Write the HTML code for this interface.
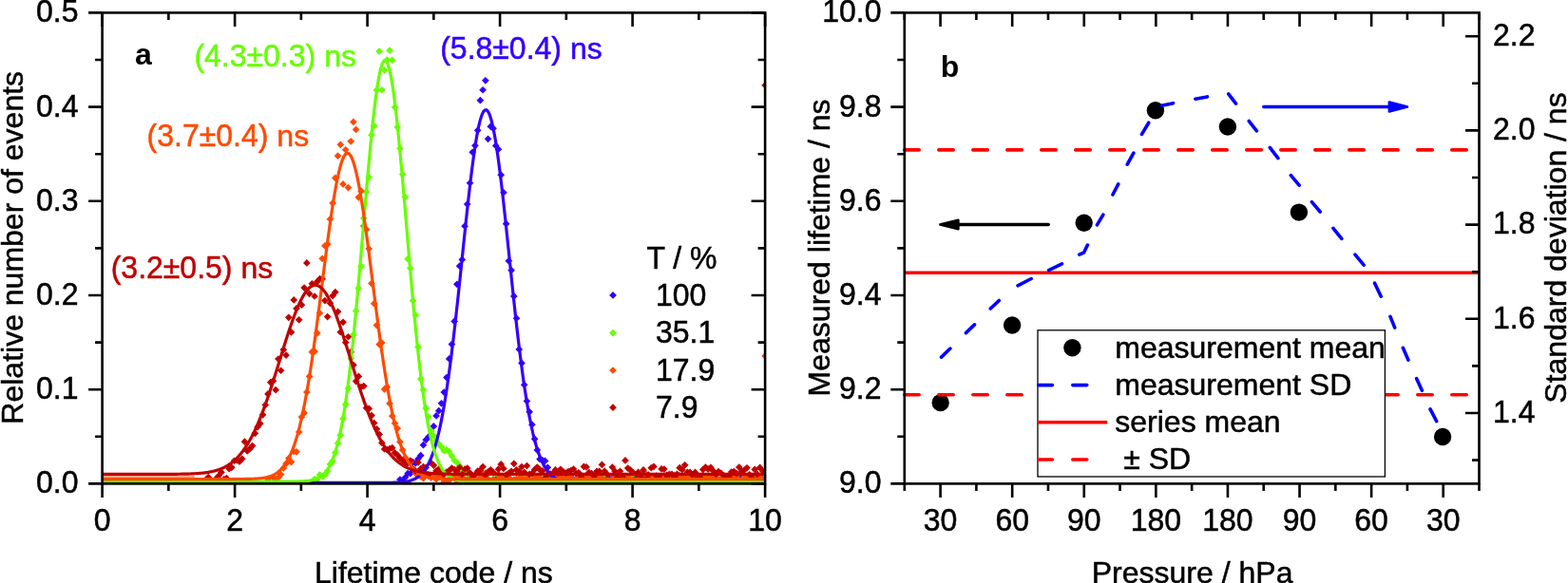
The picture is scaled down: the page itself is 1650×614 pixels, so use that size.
<!DOCTYPE html>
<html><head><meta charset="utf-8"><title>Lifetime plots</title>
<style>html,body{margin:0;padding:0;background:#fff;}body{width:1650px;height:614px;position:relative;overflow:hidden;}</style>
</head><body>
<svg width="1650" height="614" viewBox="0 0 1650 614" style="position:absolute;left:0;top:0">
<rect width="1650" height="614" fill="#fff"/>
<defs><clipPath id="ca"><rect x="107.6" y="13.4" width="697.50" height="496.00"/></clipPath></defs>
<g clip-path="url(#ca)">
<path d="M420.93 501.23L424.78 505.08L420.93 508.93L417.08 505.08Z" fill="#3300FF"/>
<path d="M423.65 502.07L427.5 505.92L423.65 509.77L419.8 505.92Z" fill="#3300FF"/>
<path d="M426.38 499.1L430.23 502.95L426.38 506.8L422.53 502.95Z" fill="#3300FF"/>
<path d="M429.1 494.83L432.95 498.68L429.1 502.53L425.25 498.68Z" fill="#3300FF"/>
<path d="M431.83 494.79L435.68 498.64L431.83 502.49L427.98 498.64Z" fill="#3300FF"/>
<path d="M434.55 482.76L438.4 486.61L434.55 490.46L430.7 486.61Z" fill="#3300FF"/>
<path d="M437.28 484.09L441.13 487.94L437.28 491.79L433.43 487.94Z" fill="#3300FF"/>
<path d="M440 479.4L443.85 483.25L440 487.1L436.15 483.25Z" fill="#3300FF"/>
<path d="M442.73 475.82L446.58 479.67L442.73 483.52L438.88 479.67Z" fill="#3300FF"/>
<path d="M445.45 464.8L449.3 468.65L445.45 472.5L441.6 468.65Z" fill="#3300FF"/>
<path d="M448.18 459.49L452.03 463.34L448.18 467.19L444.33 463.34Z" fill="#3300FF"/>
<path d="M450.9 456.18L454.75 460.03L450.9 463.88L447.05 460.03Z" fill="#3300FF"/>
<path d="M453.63 454.28L457.48 458.13L453.63 461.98L449.78 458.13Z" fill="#3300FF"/>
<path d="M456.35 445.11L460.2 448.96L456.35 452.81L452.5 448.96Z" fill="#3300FF"/>
<path d="M459.07 434.09L462.92 437.94L459.07 441.79L455.22 437.94Z" fill="#3300FF"/>
<path d="M461.8 428.78L465.65 432.63L461.8 436.48L457.95 432.63Z" fill="#3300FF"/>
<path d="M464.52 420.96L468.37 424.81L464.52 428.66L460.67 424.81Z" fill="#3300FF"/>
<path d="M467.25 409.22L471.1 413.07L467.25 416.92L463.4 413.07Z" fill="#3300FF"/>
<path d="M469.97 393.75L473.82 397.6L469.97 401.45L466.12 397.6Z" fill="#3300FF"/>
<path d="M472.7 374.11L476.55 377.96L472.7 381.81L468.85 377.96Z" fill="#3300FF"/>
<path d="M475.42 358.71L479.27 362.56L475.42 366.41L471.57 362.56Z" fill="#3300FF"/>
<path d="M478.15 334.58L482 338.43L478.15 342.28L474.3 338.43Z" fill="#3300FF"/>
<path d="M480.87 295.5L484.72 299.35L480.87 303.2L477.02 299.35Z" fill="#3300FF"/>
<path d="M483.6 276.33L487.45 280.18L483.6 284.03L479.75 280.18Z" fill="#3300FF"/>
<path d="M486.32 269.61L490.17 273.46L486.32 277.31L482.47 273.46Z" fill="#3300FF"/>
<path d="M489.05 234.32L492.9 238.17L489.05 242.02L485.2 238.17Z" fill="#3300FF"/>
<path d="M491.77 211.03L495.62 214.88L491.77 218.73L487.92 214.88Z" fill="#3300FF"/>
<path d="M494.49 188.9L498.34 192.75L494.49 196.6L490.64 192.75Z" fill="#3300FF"/>
<path d="M497.22 156.44L501.07 160.29L497.22 164.14L493.37 160.29Z" fill="#3300FF"/>
<path d="M499.94 149.44L503.79 153.29L499.94 157.14L496.09 153.29Z" fill="#3300FF"/>
<path d="M502.67 133.51L506.52 137.36L502.67 141.21L498.82 137.36Z" fill="#3300FF"/>
<path d="M505.39 101.81L509.24 105.66L505.39 109.51L501.54 105.66Z" fill="#3300FF"/>
<path d="M508.12 90.89L511.97 94.74L508.12 98.59L504.27 94.74Z" fill="#3300FF"/>
<path d="M510.84 80.97L514.69 84.82L510.84 88.67L506.99 84.82Z" fill="#3300FF"/>
<path d="M513.57 142.48L517.42 146.33L513.57 150.18L509.72 146.33Z" fill="#3300FF"/>
<path d="M516.29 129.35L520.14 133.2L516.29 137.05L512.44 133.2Z" fill="#3300FF"/>
<path d="M519.02 131.35L522.87 135.2L519.02 139.05L515.17 135.2Z" fill="#3300FF"/>
<path d="M521.74 149.59L525.59 153.44L521.74 157.29L517.89 153.44Z" fill="#3300FF"/>
<path d="M524.47 153.42L528.32 157.27L524.47 161.12L520.62 157.27Z" fill="#3300FF"/>
<path d="M527.19 180.37L531.04 184.22L527.19 188.07L523.34 184.22Z" fill="#3300FF"/>
<path d="M529.91 198.89L533.76 202.74L529.91 206.59L526.06 202.74Z" fill="#3300FF"/>
<path d="M532.64 231.85L536.49 235.7L532.64 239.55L528.79 235.7Z" fill="#3300FF"/>
<path d="M535.36 270.93L539.21 274.78L535.36 278.63L531.51 274.78Z" fill="#3300FF"/>
<path d="M538.09 280.78L541.94 284.63L538.09 288.48L534.24 284.63Z" fill="#3300FF"/>
<path d="M540.81 308.1L544.66 311.95L540.81 315.8L536.96 311.95Z" fill="#3300FF"/>
<path d="M543.54 331.39L547.39 335.24L543.54 339.09L539.69 335.24Z" fill="#3300FF"/>
<path d="M546.26 364.05L550.11 367.9L546.26 371.75L542.41 367.9Z" fill="#3300FF"/>
<path d="M548.99 378.61L552.84 382.46L548.99 386.31L545.14 382.46Z" fill="#3300FF"/>
<path d="M551.71 401.42L555.56 405.27L551.71 409.12L547.86 405.27Z" fill="#3300FF"/>
<path d="M554.44 418.61L558.29 422.46L554.44 426.31L550.59 422.46Z" fill="#3300FF"/>
<path d="M557.16 429.99L561.01 433.84L557.16 437.69L553.31 433.84Z" fill="#3300FF"/>
<path d="M559.89 443.31L563.74 447.16L559.89 451.01L556.04 447.16Z" fill="#3300FF"/>
<path d="M562.61 458.48L566.46 462.33L562.61 466.18L558.76 462.33Z" fill="#3300FF"/>
<path d="M565.33 470.11L569.18 473.96L565.33 477.81L561.48 473.96Z" fill="#3300FF"/>
<path d="M568.06 479.71L571.91 483.56L568.06 487.41L564.21 483.56Z" fill="#3300FF"/>
<path d="M570.78 480.78L574.63 484.63L570.78 488.48L566.93 484.63Z" fill="#3300FF"/>
<path d="M573.51 481.55L577.36 485.4L573.51 489.25L569.66 485.4Z" fill="#3300FF"/>
<path d="M576.23 488.52L580.08 492.37L576.23 496.22L572.38 492.37Z" fill="#3300FF"/>
<path d="M578.96 496.84L582.81 500.69L578.96 504.54L575.11 500.69Z" fill="#3300FF"/>
<path d="M581.68 495.93L585.53 499.78L581.68 503.63L577.83 499.78Z" fill="#3300FF"/>
<path d="M584.41 494.8L588.26 498.65L584.41 502.5L580.56 498.65Z" fill="#3300FF"/>
<path d="M587.13 493.36L590.98 497.21L587.13 501.06L583.28 497.21Z" fill="#3300FF"/>
<path d="M589.86 495.53L593.71 499.38L589.86 503.23L586.01 499.38Z" fill="#3300FF"/>
<path d="M592.58 498.06L596.43 501.91L592.58 505.76L588.73 501.91Z" fill="#3300FF"/>
<path d="M595.31 498.97L599.16 502.82L595.31 506.67L591.46 502.82Z" fill="#3300FF"/>
<path d="M598.03 502.11L601.88 505.96L598.03 509.81L594.18 505.96Z" fill="#3300FF"/>
<path d="M600.75 501.04L604.6 504.89L600.75 508.74L596.9 504.89Z" fill="#3300FF"/>
<path d="M603.48 500.96L607.33 504.81L603.48 508.66L599.63 504.81Z" fill="#3300FF"/>
<path d="M606.2 502.04L610.05 505.89L606.2 509.74L602.35 505.89Z" fill="#3300FF"/>
<path d="M608.93 500.3L612.78 504.15L608.93 508L605.08 504.15Z" fill="#3300FF"/>
<path d="M611.65 501.35L615.5 505.2L611.65 509.05L607.8 505.2Z" fill="#3300FF"/>
<path d="M614.38 499.79L618.23 503.64L614.38 507.49L610.53 503.64Z" fill="#3300FF"/>
<path d="M617.1 497.42L620.95 501.27L617.1 505.12L613.25 501.27Z" fill="#3300FF"/>
<path d="M619.83 498.95L623.68 502.8L619.83 506.65L615.98 502.8Z" fill="#3300FF"/>
<path d="M622.55 499.66L626.4 503.51L622.55 507.36L618.7 503.51Z" fill="#3300FF"/>
<path d="M625.28 501.11L629.13 504.96L625.28 508.81L621.43 504.96Z" fill="#3300FF"/>
<path d="M628 503.9L631.85 507.75L628 511.6L624.15 507.75Z" fill="#3300FF"/>
<path d="M630.73 500.84L634.58 504.69L630.73 508.54L626.88 504.69Z" fill="#3300FF"/>
<path d="M633.45 499.4L637.3 503.25L633.45 507.1L629.6 503.25Z" fill="#3300FF"/>
<path d="M636.17 502.79L640.02 506.64L636.17 510.49L632.32 506.64Z" fill="#3300FF"/>
<path d="M638.9 497.85L642.75 501.7L638.9 505.55L635.05 501.7Z" fill="#3300FF"/>
<path d="M641.62 501.32L645.47 505.17L641.62 509.02L637.77 505.17Z" fill="#3300FF"/>
<path d="M644.35 499.78L648.2 503.63L644.35 507.48L640.5 503.63Z" fill="#3300FF"/>
<path d="M647.07 501.31L650.92 505.16L647.07 509.01L643.22 505.16Z" fill="#3300FF"/>
<path d="M649.8 503.33L653.65 507.18L649.8 511.03L645.95 507.18Z" fill="#3300FF"/>
<path d="M652.52 496.08L656.37 499.93L652.52 503.78L648.67 499.93Z" fill="#3300FF"/>
<path d="M655.25 503.12L659.1 506.97L655.25 510.82L651.4 506.97Z" fill="#3300FF"/>
<path d="M657.97 498.59L661.82 502.44L657.97 506.29L654.12 502.44Z" fill="#3300FF"/>
<path d="M660.7 501.8L664.55 505.65L660.7 509.5L656.85 505.65Z" fill="#3300FF"/>
<path d="M663.42 499.98L667.27 503.83L663.42 507.68L659.57 503.83Z" fill="#3300FF"/>
<path d="M666.14 502.35L669.99 506.2L666.14 510.05L662.29 506.2Z" fill="#3300FF"/>
<path d="M668.87 501.5L672.72 505.35L668.87 509.2L665.02 505.35Z" fill="#3300FF"/>
<path d="M671.59 498.58L675.44 502.43L671.59 506.28L667.74 502.43Z" fill="#3300FF"/>
<path d="M674.32 496.34L678.17 500.19L674.32 504.04L670.47 500.19Z" fill="#3300FF"/>
<path d="M677.04 502.44L680.89 506.29L677.04 510.14L673.19 506.29Z" fill="#3300FF"/>
<path d="M679.77 500.57L683.62 504.42L679.77 508.27L675.92 504.42Z" fill="#3300FF"/>
<path d="M682.49 498.52L686.34 502.37L682.49 506.22L678.64 502.37Z" fill="#3300FF"/>
<path d="M685.22 501.97L689.07 505.82L685.22 509.67L681.37 505.82Z" fill="#3300FF"/>
<path d="M687.94 499.04L691.79 502.89L687.94 506.74L684.09 502.89Z" fill="#3300FF"/>
<path d="M690.67 502.3L694.52 506.15L690.67 510L686.82 506.15Z" fill="#3300FF"/>
<path d="M693.39 499.27L697.24 503.12L693.39 506.97L689.54 503.12Z" fill="#3300FF"/>
<path d="M696.12 499.64L699.97 503.49L696.12 507.34L692.27 503.49Z" fill="#3300FF"/>
<path d="M698.84 497.95L702.69 501.8L698.84 505.65L694.99 501.8Z" fill="#3300FF"/>
<path d="M701.56 499.8L705.41 503.65L701.56 507.5L697.71 503.65Z" fill="#3300FF"/>
<path d="M704.29 503.19L708.14 507.04L704.29 510.89L700.44 507.04Z" fill="#3300FF"/>
<path d="M707.01 499.14L710.86 502.99L707.01 506.84L703.16 502.99Z" fill="#3300FF"/>
<path d="M709.74 502.99L713.59 506.84L709.74 510.69L705.89 506.84Z" fill="#3300FF"/>
<path d="M712.46 498.95L716.31 502.8L712.46 506.65L708.61 502.8Z" fill="#3300FF"/>
<path d="M715.19 497.29L719.04 501.14L715.19 504.99L711.34 501.14Z" fill="#3300FF"/>
<path d="M717.91 499.29L721.76 503.14L717.91 506.99L714.06 503.14Z" fill="#3300FF"/>
<path d="M720.64 501.8L724.49 505.65L720.64 509.5L716.79 505.65Z" fill="#3300FF"/>
<path d="M723.36 497.99L727.21 501.84L723.36 505.69L719.51 501.84Z" fill="#3300FF"/>
<path d="M726.09 500.22L729.94 504.07L726.09 507.92L722.24 504.07Z" fill="#3300FF"/>
<path d="M728.81 503.31L732.66 507.16L728.81 511.01L724.96 507.16Z" fill="#3300FF"/>
<path d="M731.54 501.36L735.39 505.21L731.54 509.06L727.69 505.21Z" fill="#3300FF"/>
<path d="M734.26 497.49L738.11 501.34L734.26 505.19L730.41 501.34Z" fill="#3300FF"/>
<path d="M736.98 501.25L740.83 505.1L736.98 508.95L733.13 505.1Z" fill="#3300FF"/>
<path d="M739.71 500.32L743.56 504.17L739.71 508.02L735.86 504.17Z" fill="#3300FF"/>
<path d="M742.43 501.34L746.28 505.19L742.43 509.04L738.58 505.19Z" fill="#3300FF"/>
<path d="M745.16 504.27L749.01 508.12L745.16 511.97L741.31 508.12Z" fill="#3300FF"/>
<path d="M747.88 501.7L751.73 505.55L747.88 509.4L744.03 505.55Z" fill="#3300FF"/>
<path d="M750.61 499.81L754.46 503.66L750.61 507.51L746.76 503.66Z" fill="#3300FF"/>
<path d="M753.33 500.14L757.18 503.99L753.33 507.84L749.48 503.99Z" fill="#3300FF"/>
<path d="M756.06 500.97L759.91 504.82L756.06 508.67L752.21 504.82Z" fill="#3300FF"/>
<path d="M761.51 497.92L765.36 501.77L761.51 505.62L757.66 501.77Z" fill="#3300FF"/>
<path d="M764.23 499.02L768.08 502.87L764.23 506.72L760.38 502.87Z" fill="#3300FF"/>
<path d="M766.96 498.36L770.81 502.21L766.96 506.06L763.11 502.21Z" fill="#3300FF"/>
<path d="M769.68 497.75L773.53 501.6L769.68 505.45L765.83 501.6Z" fill="#3300FF"/>
<path d="M772.4 501.56L776.25 505.41L772.4 509.26L768.55 505.41Z" fill="#3300FF"/>
<path d="M775.13 501.91L778.98 505.76L775.13 509.61L771.28 505.76Z" fill="#3300FF"/>
<path d="M777.85 499.9L781.7 503.75L777.85 507.6L774 503.75Z" fill="#3300FF"/>
<path d="M780.58 496.94L784.43 500.79L780.58 504.64L776.73 500.79Z" fill="#3300FF"/>
<path d="M783.3 504.27L787.15 508.12L783.3 511.97L779.45 508.12Z" fill="#3300FF"/>
<path d="M786.03 501.09L789.88 504.94L786.03 508.79L782.18 504.94Z" fill="#3300FF"/>
<path d="M788.75 502.15L792.6 506L788.75 509.85L784.9 506Z" fill="#3300FF"/>
<path d="M791.48 499.37L795.33 503.22L791.48 507.07L787.63 503.22Z" fill="#3300FF"/>
<path d="M794.2 497.39L798.05 501.24L794.2 505.09L790.35 501.24Z" fill="#3300FF"/>
<path d="M796.93 501.24L800.78 505.09L796.93 508.94L793.08 505.09Z" fill="#3300FF"/>
<path d="M799.65 503.3L803.5 507.15L799.65 511L795.8 507.15Z" fill="#3300FF"/>
<path d="M802.38 500.48L806.23 504.33L802.38 508.18L798.53 504.33Z" fill="#3300FF"/>
<path d="M805.1 501.21L808.95 505.06L805.1 508.91L801.25 505.06Z" fill="#3300FF"/>
<path d="M331.02 500.64L334.87 504.49L331.02 508.34L327.17 504.49Z" fill="#66FF00"/>
<path d="M333.74 501.27L337.59 505.12L333.74 508.97L329.89 505.12Z" fill="#66FF00"/>
<path d="M336.47 496.15L340.32 500L336.47 503.85L332.62 500Z" fill="#66FF00"/>
<path d="M339.19 498.17L343.04 502.02L339.19 505.87L335.34 502.02Z" fill="#66FF00"/>
<path d="M341.92 496.5L345.77 500.35L341.92 504.2L338.07 500.35Z" fill="#66FF00"/>
<path d="M344.64 492.22L348.49 496.07L344.64 499.92L340.79 496.07Z" fill="#66FF00"/>
<path d="M347.37 485.03L351.22 488.88L347.37 492.73L343.52 488.88Z" fill="#66FF00"/>
<path d="M350.09 481.55L353.94 485.4L350.09 489.25L346.24 485.4Z" fill="#66FF00"/>
<path d="M352.81 472.83L356.66 476.68L352.81 480.53L348.96 476.68Z" fill="#66FF00"/>
<path d="M355.54 462.83L359.39 466.68L355.54 470.53L351.69 466.68Z" fill="#66FF00"/>
<path d="M358.26 454.28L362.11 458.13L358.26 461.98L354.41 458.13Z" fill="#66FF00"/>
<path d="M360.99 437.19L364.84 441.04L360.99 444.89L357.14 441.04Z" fill="#66FF00"/>
<path d="M363.71 422.06L367.56 425.91L363.71 429.76L359.86 425.91Z" fill="#66FF00"/>
<path d="M366.44 405.16L370.29 409.01L366.44 412.86L362.59 409.01Z" fill="#66FF00"/>
<path d="M369.16 373.84L373.01 377.69L369.16 381.54L365.31 377.69Z" fill="#66FF00"/>
<path d="M371.89 348.76L375.74 352.61L371.89 356.46L368.04 352.61Z" fill="#66FF00"/>
<path d="M374.61 323.59L378.46 327.44L374.61 331.29L370.76 327.44Z" fill="#66FF00"/>
<path d="M377.34 299.72L381.19 303.57L377.34 307.42L373.49 303.57Z" fill="#66FF00"/>
<path d="M380.06 276.73L383.91 280.58L380.06 284.43L376.21 280.58Z" fill="#66FF00"/>
<path d="M382.79 225.98L386.64 229.83L382.79 233.68L378.94 229.83Z" fill="#66FF00"/>
<path d="M385.51 198.52L389.36 202.37L385.51 206.22L381.66 202.37Z" fill="#66FF00"/>
<path d="M388.23 182.73L392.08 186.58L388.23 190.43L384.38 186.58Z" fill="#66FF00"/>
<path d="M390.96 138.29L394.81 142.14L390.96 145.99L387.11 142.14Z" fill="#66FF00"/>
<path d="M393.68 128.68L397.53 132.53L393.68 136.38L389.83 132.53Z" fill="#66FF00"/>
<path d="M396.41 90.88L400.26 94.73L396.41 98.58L392.56 94.73Z" fill="#66FF00"/>
<path d="M399.13 50.22L402.98 54.07L399.13 57.92L395.28 54.07Z" fill="#66FF00"/>
<path d="M401.86 90.89L405.71 94.74L401.86 98.59L398.01 94.74Z" fill="#66FF00"/>
<path d="M404.58 70.06L408.43 73.91L404.58 77.76L400.73 73.91Z" fill="#66FF00"/>
<path d="M407.31 59.19L411.16 63.04L407.31 66.89L403.46 63.04Z" fill="#66FF00"/>
<path d="M410.03 49.23L413.88 53.08L410.03 56.93L406.18 53.08Z" fill="#66FF00"/>
<path d="M412.76 59.45L416.61 63.3L412.76 67.15L408.91 63.3Z" fill="#66FF00"/>
<path d="M415.48 109.13L419.33 112.98L415.48 116.83L411.63 112.98Z" fill="#66FF00"/>
<path d="M418.21 130.03L422.06 133.88L418.21 137.73L414.36 133.88Z" fill="#66FF00"/>
<path d="M420.93 152.59L424.78 156.44L420.93 160.29L417.08 156.44Z" fill="#66FF00"/>
<path d="M423.65 179.89L427.5 183.74L423.65 187.59L419.8 183.74Z" fill="#66FF00"/>
<path d="M426.38 203.69L430.23 207.54L426.38 211.39L422.53 207.54Z" fill="#66FF00"/>
<path d="M429.1 268.83L432.95 272.68L429.1 276.53L425.25 272.68Z" fill="#66FF00"/>
<path d="M431.83 278.57L435.68 282.42L431.83 286.27L427.98 282.42Z" fill="#66FF00"/>
<path d="M434.55 312.85L438.4 316.7L434.55 320.55L430.7 316.7Z" fill="#66FF00"/>
<path d="M437.28 328.13L441.13 331.98L437.28 335.83L433.43 331.98Z" fill="#66FF00"/>
<path d="M440 361.57L443.85 365.42L440 369.27L436.15 365.42Z" fill="#66FF00"/>
<path d="M442.73 395.24L446.58 399.09L442.73 402.94L438.88 399.09Z" fill="#66FF00"/>
<path d="M445.45 406.86L449.3 410.71L445.45 414.56L441.6 410.71Z" fill="#66FF00"/>
<path d="M448.18 426.09L452.03 429.94L448.18 433.79L444.33 429.94Z" fill="#66FF00"/>
<path d="M450.9 434.93L454.75 438.78L450.9 442.63L447.05 438.78Z" fill="#66FF00"/>
<path d="M453.63 449.96L457.48 453.81L453.63 457.66L449.78 453.81Z" fill="#66FF00"/>
<path d="M456.35 455.03L460.2 458.88L456.35 462.73L452.5 458.88Z" fill="#66FF00"/>
<path d="M459.07 460.18L462.92 464.03L459.07 467.88L455.22 464.03Z" fill="#66FF00"/>
<path d="M461.8 463.63L465.65 467.48L461.8 471.33L457.95 467.48Z" fill="#66FF00"/>
<path d="M464.52 466.92L468.37 470.77L464.52 474.62L460.67 470.77Z" fill="#66FF00"/>
<path d="M467.25 470.83L471.1 474.68L467.25 478.53L463.4 474.68Z" fill="#66FF00"/>
<path d="M469.97 469.78L473.82 473.63L469.97 477.48L466.12 473.63Z" fill="#66FF00"/>
<path d="M472.7 471.72L476.55 475.57L472.7 479.42L468.85 475.57Z" fill="#66FF00"/>
<path d="M475.42 476.24L479.27 480.09L475.42 483.94L471.57 480.09Z" fill="#66FF00"/>
<path d="M478.15 480.99L482 484.84L478.15 488.69L474.3 484.84Z" fill="#66FF00"/>
<path d="M480.87 483.27L484.72 487.12L480.87 490.97L477.02 487.12Z" fill="#66FF00"/>
<path d="M483.6 486.63L487.45 490.48L483.6 494.33L479.75 490.48Z" fill="#66FF00"/>
<path d="M486.32 491.08L490.17 494.93L486.32 498.78L482.47 494.93Z" fill="#66FF00"/>
<path d="M489.05 493.99L492.9 497.84L489.05 501.69L485.2 497.84Z" fill="#66FF00"/>
<path d="M491.77 494.84L495.62 498.69L491.77 502.54L487.92 498.69Z" fill="#66FF00"/>
<path d="M494.49 499.85L498.34 503.7L494.49 507.55L490.64 503.7Z" fill="#66FF00"/>
<path d="M497.22 500.64L501.07 504.49L497.22 508.34L493.37 504.49Z" fill="#66FF00"/>
<path d="M499.94 503.25L503.79 507.1L499.94 510.95L496.09 507.1Z" fill="#66FF00"/>
<path d="M502.67 502.47L506.52 506.32L502.67 510.17L498.82 506.32Z" fill="#66FF00"/>
<path d="M505.39 502.93L509.24 506.78L505.39 510.63L501.54 506.78Z" fill="#66FF00"/>
<path d="M508.12 503.44L511.97 507.29L508.12 511.14L504.27 507.29Z" fill="#66FF00"/>
<path d="M510.84 503.26L514.69 507.11L510.84 510.96L506.99 507.11Z" fill="#66FF00"/>
<path d="M513.57 500.36L517.42 504.21L513.57 508.06L509.72 504.21Z" fill="#66FF00"/>
<path d="M516.29 502.77L520.14 506.62L516.29 510.47L512.44 506.62Z" fill="#66FF00"/>
<path d="M519.02 502.7L522.87 506.55L519.02 510.4L515.17 506.55Z" fill="#66FF00"/>
<path d="M521.74 499.95L525.59 503.8L521.74 507.65L517.89 503.8Z" fill="#66FF00"/>
<path d="M524.47 502.64L528.32 506.49L524.47 510.34L520.62 506.49Z" fill="#66FF00"/>
<path d="M529.91 502.09L533.76 505.94L529.91 509.79L526.06 505.94Z" fill="#66FF00"/>
<path d="M532.64 503.69L536.49 507.54L532.64 511.39L528.79 507.54Z" fill="#66FF00"/>
<path d="M535.36 500.62L539.21 504.47L535.36 508.32L531.51 504.47Z" fill="#66FF00"/>
<path d="M538.09 504.06L541.94 507.91L538.09 511.76L534.24 507.91Z" fill="#66FF00"/>
<path d="M540.81 503.26L544.66 507.11L540.81 510.96L536.96 507.11Z" fill="#66FF00"/>
<path d="M543.54 504.49L547.39 508.34L543.54 512.19L539.69 508.34Z" fill="#66FF00"/>
<path d="M546.26 502.46L550.11 506.31L546.26 510.16L542.41 506.31Z" fill="#66FF00"/>
<path d="M548.99 503.78L552.84 507.63L548.99 511.48L545.14 507.63Z" fill="#66FF00"/>
<path d="M551.71 502.65L555.56 506.5L551.71 510.35L547.86 506.5Z" fill="#66FF00"/>
<path d="M554.44 503.02L558.29 506.87L554.44 510.72L550.59 506.87Z" fill="#66FF00"/>
<path d="M557.16 503.3L561.01 507.15L557.16 511L553.31 507.15Z" fill="#66FF00"/>
<path d="M559.89 501.45L563.74 505.3L559.89 509.15L556.04 505.3Z" fill="#66FF00"/>
<path d="M562.61 501.46L566.46 505.31L562.61 509.16L558.76 505.31Z" fill="#66FF00"/>
<path d="M565.33 502.5L569.18 506.35L565.33 510.2L561.48 506.35Z" fill="#66FF00"/>
<path d="M568.06 503.65L571.91 507.5L568.06 511.35L564.21 507.5Z" fill="#66FF00"/>
<path d="M570.78 503.85L574.63 507.7L570.78 511.55L566.93 507.7Z" fill="#66FF00"/>
<path d="M573.51 502.25L577.36 506.1L573.51 509.95L569.66 506.1Z" fill="#66FF00"/>
<path d="M576.23 499.73L580.08 503.58L576.23 507.43L572.38 503.58Z" fill="#66FF00"/>
<path d="M578.96 503.12L582.81 506.97L578.96 510.82L575.11 506.97Z" fill="#66FF00"/>
<path d="M581.68 503.51L585.53 507.36L581.68 511.21L577.83 507.36Z" fill="#66FF00"/>
<path d="M584.41 503.4L588.26 507.25L584.41 511.1L580.56 507.25Z" fill="#66FF00"/>
<path d="M587.13 503.88L590.98 507.73L587.13 511.58L583.28 507.73Z" fill="#66FF00"/>
<path d="M589.86 503.73L593.71 507.58L589.86 511.43L586.01 507.58Z" fill="#66FF00"/>
<path d="M592.58 502.82L596.43 506.67L592.58 510.52L588.73 506.67Z" fill="#66FF00"/>
<path d="M595.31 500.87L599.16 504.72L595.31 508.57L591.46 504.72Z" fill="#66FF00"/>
<path d="M598.03 502.58L601.88 506.43L598.03 510.28L594.18 506.43Z" fill="#66FF00"/>
<path d="M600.75 503.18L604.6 507.03L600.75 510.88L596.9 507.03Z" fill="#66FF00"/>
<path d="M603.48 504.5L607.33 508.35L603.48 512.2L599.63 508.35Z" fill="#66FF00"/>
<path d="M606.2 502.32L610.05 506.17L606.2 510.02L602.35 506.17Z" fill="#66FF00"/>
<path d="M608.93 502.61L612.78 506.46L608.93 510.31L605.08 506.46Z" fill="#66FF00"/>
<path d="M611.65 504.03L615.5 507.88L611.65 511.73L607.8 507.88Z" fill="#66FF00"/>
<path d="M614.38 503.87L618.23 507.72L614.38 511.57L610.53 507.72Z" fill="#66FF00"/>
<path d="M617.1 502.62L620.95 506.47L617.1 510.32L613.25 506.47Z" fill="#66FF00"/>
<path d="M619.83 501.37L623.68 505.22L619.83 509.07L615.98 505.22Z" fill="#66FF00"/>
<path d="M622.55 501.83L626.4 505.68L622.55 509.53L618.7 505.68Z" fill="#66FF00"/>
<path d="M625.28 502.33L629.13 506.18L625.28 510.03L621.43 506.18Z" fill="#66FF00"/>
<path d="M628 502.96L631.85 506.81L628 510.66L624.15 506.81Z" fill="#66FF00"/>
<path d="M630.73 502.19L634.58 506.04L630.73 509.89L626.88 506.04Z" fill="#66FF00"/>
<path d="M633.45 502.59L637.3 506.44L633.45 510.29L629.6 506.44Z" fill="#66FF00"/>
<path d="M636.17 499.99L640.02 503.84L636.17 507.69L632.32 503.84Z" fill="#66FF00"/>
<path d="M638.9 503.92L642.75 507.77L638.9 511.62L635.05 507.77Z" fill="#66FF00"/>
<path d="M641.62 503.01L645.47 506.86L641.62 510.71L637.77 506.86Z" fill="#66FF00"/>
<path d="M644.35 501.06L648.2 504.91L644.35 508.76L640.5 504.91Z" fill="#66FF00"/>
<path d="M647.07 502.89L650.92 506.74L647.07 510.59L643.22 506.74Z" fill="#66FF00"/>
<path d="M649.8 500.88L653.65 504.73L649.8 508.58L645.95 504.73Z" fill="#66FF00"/>
<path d="M652.52 502.63L656.37 506.48L652.52 510.33L648.67 506.48Z" fill="#66FF00"/>
<path d="M655.25 502.4L659.1 506.25L655.25 510.1L651.4 506.25Z" fill="#66FF00"/>
<path d="M657.97 503.02L661.82 506.87L657.97 510.72L654.12 506.87Z" fill="#66FF00"/>
<path d="M660.7 504.22L664.55 508.07L660.7 511.92L656.85 508.07Z" fill="#66FF00"/>
<path d="M663.42 503.73L667.27 507.58L663.42 511.43L659.57 507.58Z" fill="#66FF00"/>
<path d="M666.14 499.94L669.99 503.79L666.14 507.64L662.29 503.79Z" fill="#66FF00"/>
<path d="M668.87 501.81L672.72 505.66L668.87 509.51L665.02 505.66Z" fill="#66FF00"/>
<path d="M671.59 501.85L675.44 505.7L671.59 509.55L667.74 505.7Z" fill="#66FF00"/>
<path d="M674.32 501.44L678.17 505.29L674.32 509.14L670.47 505.29Z" fill="#66FF00"/>
<path d="M677.04 501.9L680.89 505.75L677.04 509.6L673.19 505.75Z" fill="#66FF00"/>
<path d="M679.77 501.36L683.62 505.21L679.77 509.06L675.92 505.21Z" fill="#66FF00"/>
<path d="M682.49 502.89L686.34 506.74L682.49 510.59L678.64 506.74Z" fill="#66FF00"/>
<path d="M685.22 502.84L689.07 506.69L685.22 510.54L681.37 506.69Z" fill="#66FF00"/>
<path d="M687.94 501.4L691.79 505.25L687.94 509.1L684.09 505.25Z" fill="#66FF00"/>
<path d="M690.67 502.99L694.52 506.84L690.67 510.69L686.82 506.84Z" fill="#66FF00"/>
<path d="M693.39 504.16L697.24 508.01L693.39 511.86L689.54 508.01Z" fill="#66FF00"/>
<path d="M696.12 502.84L699.97 506.69L696.12 510.54L692.27 506.69Z" fill="#66FF00"/>
<path d="M698.84 503.22L702.69 507.07L698.84 510.92L694.99 507.07Z" fill="#66FF00"/>
<path d="M701.56 501.84L705.41 505.69L701.56 509.54L697.71 505.69Z" fill="#66FF00"/>
<path d="M704.29 503.43L708.14 507.28L704.29 511.13L700.44 507.28Z" fill="#66FF00"/>
<path d="M707.01 503.84L710.86 507.69L707.01 511.54L703.16 507.69Z" fill="#66FF00"/>
<path d="M709.74 502.97L713.59 506.82L709.74 510.67L705.89 506.82Z" fill="#66FF00"/>
<path d="M712.46 500.73L716.31 504.58L712.46 508.43L708.61 504.58Z" fill="#66FF00"/>
<path d="M715.19 502.63L719.04 506.48L715.19 510.33L711.34 506.48Z" fill="#66FF00"/>
<path d="M717.91 502.38L721.76 506.23L717.91 510.08L714.06 506.23Z" fill="#66FF00"/>
<path d="M720.64 502.56L724.49 506.41L720.64 510.26L716.79 506.41Z" fill="#66FF00"/>
<path d="M723.36 502.22L727.21 506.07L723.36 509.92L719.51 506.07Z" fill="#66FF00"/>
<path d="M726.09 501.47L729.94 505.32L726.09 509.17L722.24 505.32Z" fill="#66FF00"/>
<path d="M728.81 500.91L732.66 504.76L728.81 508.61L724.96 504.76Z" fill="#66FF00"/>
<path d="M731.54 504.53L735.39 508.38L731.54 512.23L727.69 508.38Z" fill="#66FF00"/>
<path d="M734.26 500.95L738.11 504.8L734.26 508.65L730.41 504.8Z" fill="#66FF00"/>
<path d="M736.98 502.58L740.83 506.43L736.98 510.28L733.13 506.43Z" fill="#66FF00"/>
<path d="M739.71 502.96L743.56 506.81L739.71 510.66L735.86 506.81Z" fill="#66FF00"/>
<path d="M742.43 499.72L746.28 503.57L742.43 507.42L738.58 503.57Z" fill="#66FF00"/>
<path d="M745.16 502.78L749.01 506.63L745.16 510.48L741.31 506.63Z" fill="#66FF00"/>
<path d="M747.88 500.26L751.73 504.11L747.88 507.96L744.03 504.11Z" fill="#66FF00"/>
<path d="M750.61 501.42L754.46 505.27L750.61 509.12L746.76 505.27Z" fill="#66FF00"/>
<path d="M753.33 503.8L757.18 507.65L753.33 511.5L749.48 507.65Z" fill="#66FF00"/>
<path d="M756.06 501.99L759.91 505.84L756.06 509.69L752.21 505.84Z" fill="#66FF00"/>
<path d="M758.78 501.7L762.63 505.55L758.78 509.4L754.93 505.55Z" fill="#66FF00"/>
<path d="M761.51 502.72L765.36 506.57L761.51 510.42L757.66 506.57Z" fill="#66FF00"/>
<path d="M766.96 502.98L770.81 506.83L766.96 510.68L763.11 506.83Z" fill="#66FF00"/>
<path d="M769.68 502.8L773.53 506.65L769.68 510.5L765.83 506.65Z" fill="#66FF00"/>
<path d="M772.4 503.89L776.25 507.74L772.4 511.59L768.55 507.74Z" fill="#66FF00"/>
<path d="M775.13 500.4L778.98 504.25L775.13 508.1L771.28 504.25Z" fill="#66FF00"/>
<path d="M777.85 502.86L781.7 506.71L777.85 510.56L774 506.71Z" fill="#66FF00"/>
<path d="M780.58 503.04L784.43 506.89L780.58 510.74L776.73 506.89Z" fill="#66FF00"/>
<path d="M783.3 502.93L787.15 506.78L783.3 510.63L779.45 506.78Z" fill="#66FF00"/>
<path d="M786.03 503.51L789.88 507.36L786.03 511.21L782.18 507.36Z" fill="#66FF00"/>
<path d="M788.75 503.5L792.6 507.35L788.75 511.2L784.9 507.35Z" fill="#66FF00"/>
<path d="M791.48 502.46L795.33 506.31L791.48 510.16L787.63 506.31Z" fill="#66FF00"/>
<path d="M794.2 502.2L798.05 506.05L794.2 509.9L790.35 506.05Z" fill="#66FF00"/>
<path d="M796.93 503.18L800.78 507.03L796.93 510.88L793.08 507.03Z" fill="#66FF00"/>
<path d="M799.65 502.68L803.5 506.53L799.65 510.38L795.8 506.53Z" fill="#66FF00"/>
<path d="M802.38 504.23L806.23 508.08L802.38 511.93L798.53 508.08Z" fill="#66FF00"/>
<path d="M805.1 501.95L808.95 505.8L805.1 509.65L801.25 505.8Z" fill="#66FF00"/>
<path d="M281.98 501.14L285.83 504.99L281.98 508.84L278.12 504.99Z" fill="#FF4A00"/>
<path d="M287.42 499.03L291.27 502.88L287.42 506.73L283.57 502.88Z" fill="#FF4A00"/>
<path d="M290.15 500.9L294 504.75L290.15 508.6L286.3 504.75Z" fill="#FF4A00"/>
<path d="M292.87 499.18L296.72 503.03L292.87 506.88L289.02 503.03Z" fill="#FF4A00"/>
<path d="M295.6 495.83L299.45 499.68L295.6 503.53L291.75 499.68Z" fill="#FF4A00"/>
<path d="M298.32 489.1L302.17 492.95L298.32 496.8L294.47 492.95Z" fill="#FF4A00"/>
<path d="M301.05 484.52L304.9 488.37L301.05 492.22L297.2 488.37Z" fill="#FF4A00"/>
<path d="M303.77 478.88L307.62 482.73L303.77 486.58L299.92 482.73Z" fill="#FF4A00"/>
<path d="M306.5 482.77L310.35 486.62L306.5 490.47L302.65 486.62Z" fill="#FF4A00"/>
<path d="M309.22 471.7L313.07 475.55L309.22 479.4L305.37 475.55Z" fill="#FF4A00"/>
<path d="M311.95 471.94L315.8 475.79L311.95 479.64L308.1 475.79Z" fill="#FF4A00"/>
<path d="M314.67 451.16L318.52 455.01L314.67 458.86L310.82 455.01Z" fill="#FF4A00"/>
<path d="M317.39 435.42L321.24 439.27L317.39 443.12L313.54 439.27Z" fill="#FF4A00"/>
<path d="M320.12 431.06L323.97 434.91L320.12 438.76L316.27 434.91Z" fill="#FF4A00"/>
<path d="M322.84 409.15L326.69 413L322.84 416.85L318.99 413Z" fill="#FF4A00"/>
<path d="M325.57 392.6L329.42 396.45L325.57 400.3L321.72 396.45Z" fill="#FF4A00"/>
<path d="M328.29 366.86L332.14 370.71L328.29 374.56L324.44 370.71Z" fill="#FF4A00"/>
<path d="M331.02 366.29L334.87 370.14L331.02 373.99L327.17 370.14Z" fill="#FF4A00"/>
<path d="M333.74 346.97L337.59 350.82L333.74 354.67L329.89 350.82Z" fill="#FF4A00"/>
<path d="M336.47 325.91L340.32 329.76L336.47 333.61L332.62 329.76Z" fill="#FF4A00"/>
<path d="M339.19 268.46L343.04 272.31L339.19 276.16L335.34 272.31Z" fill="#FF4A00"/>
<path d="M341.92 255.07L345.77 258.92L341.92 262.77L338.07 258.92Z" fill="#FF4A00"/>
<path d="M344.64 253.35L348.49 257.2L344.64 261.05L340.79 257.2Z" fill="#FF4A00"/>
<path d="M347.37 226.89L351.22 230.74L347.37 234.59L343.52 230.74Z" fill="#FF4A00"/>
<path d="M350.09 210.12L353.94 213.97L350.09 217.82L346.24 213.97Z" fill="#FF4A00"/>
<path d="M352.81 183.55L356.66 187.4L352.81 191.25L348.96 187.4Z" fill="#FF4A00"/>
<path d="M355.54 160.33L359.39 164.18L355.54 168.03L351.69 164.18Z" fill="#FF4A00"/>
<path d="M358.26 148.43L362.11 152.28L358.26 156.13L354.41 152.28Z" fill="#FF4A00"/>
<path d="M360.99 190.09L364.84 193.94L360.99 197.79L357.14 193.94Z" fill="#FF4A00"/>
<path d="M363.71 153.89L367.56 157.74L363.71 161.59L359.86 157.74Z" fill="#FF4A00"/>
<path d="M366.44 193.76L370.29 197.61L366.44 201.46L362.59 197.61Z" fill="#FF4A00"/>
<path d="M369.16 144.96L373.01 148.81L369.16 152.66L365.31 148.81Z" fill="#FF4A00"/>
<path d="M371.89 124.62L375.74 128.47L371.89 132.32L368.04 128.47Z" fill="#FF4A00"/>
<path d="M374.61 132.56L378.46 136.41L374.61 140.26L370.76 136.41Z" fill="#FF4A00"/>
<path d="M377.34 203.98L381.19 207.83L377.34 211.68L373.49 207.83Z" fill="#FF4A00"/>
<path d="M380.06 197.29L383.91 201.14L380.06 204.99L376.21 201.14Z" fill="#FF4A00"/>
<path d="M382.79 234.22L386.64 238.07L382.79 241.92L378.94 238.07Z" fill="#FF4A00"/>
<path d="M385.51 237.98L389.36 241.83L385.51 245.68L381.66 241.83Z" fill="#FF4A00"/>
<path d="M388.23 258.13L392.08 261.98L388.23 265.83L384.38 261.98Z" fill="#FF4A00"/>
<path d="M390.96 294.75L394.81 298.6L390.96 302.45L387.11 298.6Z" fill="#FF4A00"/>
<path d="M393.68 315.84L397.53 319.69L393.68 323.54L389.83 319.69Z" fill="#FF4A00"/>
<path d="M396.41 338.71L400.26 342.56L396.41 346.41L392.56 342.56Z" fill="#FF4A00"/>
<path d="M399.13 358.78L402.98 362.63L399.13 366.48L395.28 362.63Z" fill="#FF4A00"/>
<path d="M401.86 357.15L405.71 361L401.86 364.85L398.01 361Z" fill="#FF4A00"/>
<path d="M404.58 406.07L408.43 409.92L404.58 413.77L400.73 409.92Z" fill="#FF4A00"/>
<path d="M407.31 403.59L411.16 407.44L407.31 411.29L403.46 407.44Z" fill="#FF4A00"/>
<path d="M410.03 421.12L413.88 424.97L410.03 428.82L406.18 424.97Z" fill="#FF4A00"/>
<path d="M412.76 434.35L416.61 438.2L412.76 442.05L408.91 438.2Z" fill="#FF4A00"/>
<path d="M415.48 441.91L419.33 445.76L415.48 449.61L411.63 445.76Z" fill="#FF4A00"/>
<path d="M418.21 447.28L422.06 451.13L418.21 454.98L414.36 451.13Z" fill="#FF4A00"/>
<path d="M420.93 461.57L424.78 465.42L420.93 469.27L417.08 465.42Z" fill="#FF4A00"/>
<path d="M423.65 470.07L427.5 473.92L423.65 477.77L419.8 473.92Z" fill="#FF4A00"/>
<path d="M426.38 478.08L430.23 481.93L426.38 485.78L422.53 481.93Z" fill="#FF4A00"/>
<path d="M429.1 481.52L432.95 485.37L429.1 489.22L425.25 485.37Z" fill="#FF4A00"/>
<path d="M431.83 482.56L435.68 486.41L431.83 490.26L427.98 486.41Z" fill="#FF4A00"/>
<path d="M434.55 489.91L438.4 493.76L434.55 497.61L430.7 493.76Z" fill="#FF4A00"/>
<path d="M437.28 494.6L441.13 498.45L437.28 502.3L433.43 498.45Z" fill="#FF4A00"/>
<path d="M440 496.89L443.85 500.74L440 504.59L436.15 500.74Z" fill="#FF4A00"/>
<path d="M442.73 498.03L446.58 501.88L442.73 505.73L438.88 501.88Z" fill="#FF4A00"/>
<path d="M445.45 499.89L449.3 503.74L445.45 507.59L441.6 503.74Z" fill="#FF4A00"/>
<path d="M448.18 494.96L452.03 498.81L448.18 502.66L444.33 498.81Z" fill="#FF4A00"/>
<path d="M450.9 497.43L454.75 501.28L450.9 505.13L447.05 501.28Z" fill="#FF4A00"/>
<path d="M453.63 499.31L457.48 503.16L453.63 507.01L449.78 503.16Z" fill="#FF4A00"/>
<path d="M456.35 495.9L460.2 499.75L456.35 503.6L452.5 499.75Z" fill="#FF4A00"/>
<path d="M459.07 500.91L462.92 504.76L459.07 508.61L455.22 504.76Z" fill="#FF4A00"/>
<path d="M461.8 497.98L465.65 501.83L461.8 505.68L457.95 501.83Z" fill="#FF4A00"/>
<path d="M464.52 498.03L468.37 501.88L464.52 505.73L460.67 501.88Z" fill="#FF4A00"/>
<path d="M467.25 503.28L471.1 507.13L467.25 510.98L463.4 507.13Z" fill="#FF4A00"/>
<path d="M469.97 503.37L473.82 507.22L469.97 511.07L466.12 507.22Z" fill="#FF4A00"/>
<path d="M472.7 502.03L476.55 505.88L472.7 509.73L468.85 505.88Z" fill="#FF4A00"/>
<path d="M475.42 498.05L479.27 501.9L475.42 505.75L471.57 501.9Z" fill="#FF4A00"/>
<path d="M478.15 497.22L482 501.07L478.15 504.92L474.3 501.07Z" fill="#FF4A00"/>
<path d="M480.87 502.75L484.72 506.6L480.87 510.45L477.02 506.6Z" fill="#FF4A00"/>
<path d="M483.6 497.79L487.45 501.64L483.6 505.49L479.75 501.64Z" fill="#FF4A00"/>
<path d="M486.32 500.92L490.17 504.77L486.32 508.62L482.47 504.77Z" fill="#FF4A00"/>
<path d="M489.05 500.95L492.9 504.8L489.05 508.65L485.2 504.8Z" fill="#FF4A00"/>
<path d="M491.77 501.29L495.62 505.14L491.77 508.99L487.92 505.14Z" fill="#FF4A00"/>
<path d="M494.49 500.8L498.34 504.65L494.49 508.5L490.64 504.65Z" fill="#FF4A00"/>
<path d="M497.22 504.06L501.07 507.91L497.22 511.76L493.37 507.91Z" fill="#FF4A00"/>
<path d="M499.94 502.28L503.79 506.13L499.94 509.98L496.09 506.13Z" fill="#FF4A00"/>
<path d="M502.67 502.79L506.52 506.64L502.67 510.49L498.82 506.64Z" fill="#FF4A00"/>
<path d="M505.39 499.02L509.24 502.87L505.39 506.72L501.54 502.87Z" fill="#FF4A00"/>
<path d="M508.12 495.53L511.97 499.38L508.12 503.23L504.27 499.38Z" fill="#FF4A00"/>
<path d="M510.84 494.13L514.69 497.98L510.84 501.83L506.99 497.98Z" fill="#FF4A00"/>
<path d="M513.57 500.83L517.42 504.68L513.57 508.53L509.72 504.68Z" fill="#FF4A00"/>
<path d="M516.29 503.85L520.14 507.7L516.29 511.55L512.44 507.7Z" fill="#FF4A00"/>
<path d="M519.02 500.98L522.87 504.83L519.02 508.68L515.17 504.83Z" fill="#FF4A00"/>
<path d="M521.74 502.14L525.59 505.99L521.74 509.84L517.89 505.99Z" fill="#FF4A00"/>
<path d="M524.47 495.77L528.32 499.62L524.47 503.47L520.62 499.62Z" fill="#FF4A00"/>
<path d="M527.19 498.85L531.04 502.7L527.19 506.55L523.34 502.7Z" fill="#FF4A00"/>
<path d="M529.91 501.68L533.76 505.53L529.91 509.38L526.06 505.53Z" fill="#FF4A00"/>
<path d="M532.64 498.05L536.49 501.9L532.64 505.75L528.79 501.9Z" fill="#FF4A00"/>
<path d="M535.36 498.92L539.21 502.77L535.36 506.62L531.51 502.77Z" fill="#FF4A00"/>
<path d="M538.09 503.64L541.94 507.49L538.09 511.34L534.24 507.49Z" fill="#FF4A00"/>
<path d="M540.81 501.25L544.66 505.1L540.81 508.95L536.96 505.1Z" fill="#FF4A00"/>
<path d="M543.54 500.62L547.39 504.47L543.54 508.32L539.69 504.47Z" fill="#FF4A00"/>
<path d="M546.26 500.05L550.11 503.9L546.26 507.75L542.41 503.9Z" fill="#FF4A00"/>
<path d="M548.99 499.81L552.84 503.66L548.99 507.51L545.14 503.66Z" fill="#FF4A00"/>
<path d="M551.71 500.83L555.56 504.68L551.71 508.53L547.86 504.68Z" fill="#FF4A00"/>
<path d="M554.44 499.68L558.29 503.53L554.44 507.38L550.59 503.53Z" fill="#FF4A00"/>
<path d="M557.16 501.37L561.01 505.22L557.16 509.07L553.31 505.22Z" fill="#FF4A00"/>
<path d="M559.89 502.05L563.74 505.9L559.89 509.75L556.04 505.9Z" fill="#FF4A00"/>
<path d="M562.61 496.79L566.46 500.64L562.61 504.49L558.76 500.64Z" fill="#FF4A00"/>
<path d="M565.33 499.31L569.18 503.16L565.33 507.01L561.48 503.16Z" fill="#FF4A00"/>
<path d="M568.06 499.14L571.91 502.99L568.06 506.84L564.21 502.99Z" fill="#FF4A00"/>
<path d="M570.78 503.57L574.63 507.42L570.78 511.27L566.93 507.42Z" fill="#FF4A00"/>
<path d="M573.51 500.46L577.36 504.31L573.51 508.16L569.66 504.31Z" fill="#FF4A00"/>
<path d="M576.23 498.31L580.08 502.16L576.23 506.01L572.38 502.16Z" fill="#FF4A00"/>
<path d="M578.96 502.91L582.81 506.76L578.96 510.61L575.11 506.76Z" fill="#FF4A00"/>
<path d="M581.68 497.7L585.53 501.55L581.68 505.4L577.83 501.55Z" fill="#FF4A00"/>
<path d="M584.41 500.94L588.26 504.79L584.41 508.64L580.56 504.79Z" fill="#FF4A00"/>
<path d="M587.13 499.22L590.98 503.07L587.13 506.92L583.28 503.07Z" fill="#FF4A00"/>
<path d="M589.86 500.38L593.71 504.23L589.86 508.08L586.01 504.23Z" fill="#FF4A00"/>
<path d="M592.58 499.62L596.43 503.47L592.58 507.32L588.73 503.47Z" fill="#FF4A00"/>
<path d="M595.31 497.47L599.16 501.32L595.31 505.17L591.46 501.32Z" fill="#FF4A00"/>
<path d="M598.03 500.97L601.88 504.82L598.03 508.67L594.18 504.82Z" fill="#FF4A00"/>
<path d="M600.75 496.68L604.6 500.53L600.75 504.38L596.9 500.53Z" fill="#FF4A00"/>
<path d="M603.48 501.8L607.33 505.65L603.48 509.5L599.63 505.65Z" fill="#FF4A00"/>
<path d="M606.2 502.13L610.05 505.98L606.2 509.83L602.35 505.98Z" fill="#FF4A00"/>
<path d="M608.93 498.54L612.78 502.39L608.93 506.24L605.08 502.39Z" fill="#FF4A00"/>
<path d="M611.65 502.42L615.5 506.27L611.65 510.12L607.8 506.27Z" fill="#FF4A00"/>
<path d="M614.38 500.9L618.23 504.75L614.38 508.6L610.53 504.75Z" fill="#FF4A00"/>
<path d="M617.1 498.11L620.95 501.96L617.1 505.81L613.25 501.96Z" fill="#FF4A00"/>
<path d="M619.83 497.45L623.68 501.3L619.83 505.15L615.98 501.3Z" fill="#FF4A00"/>
<path d="M622.55 503.97L626.4 507.82L622.55 511.67L618.7 507.82Z" fill="#FF4A00"/>
<path d="M625.28 498.99L629.13 502.84L625.28 506.69L621.43 502.84Z" fill="#FF4A00"/>
<path d="M628 495.98L631.85 499.83L628 503.68L624.15 499.83Z" fill="#FF4A00"/>
<path d="M630.73 497.49L634.58 501.34L630.73 505.19L626.88 501.34Z" fill="#FF4A00"/>
<path d="M633.45 500.62L637.3 504.47L633.45 508.32L629.6 504.47Z" fill="#FF4A00"/>
<path d="M636.17 501.4L640.02 505.25L636.17 509.1L632.32 505.25Z" fill="#FF4A00"/>
<path d="M638.9 500.74L642.75 504.59L638.9 508.44L635.05 504.59Z" fill="#FF4A00"/>
<path d="M641.62 502.61L645.47 506.46L641.62 510.31L637.77 506.46Z" fill="#FF4A00"/>
<path d="M644.35 500.67L648.2 504.52L644.35 508.37L640.5 504.52Z" fill="#FF4A00"/>
<path d="M647.07 500.5L650.92 504.35L647.07 508.2L643.22 504.35Z" fill="#FF4A00"/>
<path d="M649.8 500.41L653.65 504.26L649.8 508.11L645.95 504.26Z" fill="#FF4A00"/>
<path d="M652.52 497.51L656.37 501.36L652.52 505.21L648.67 501.36Z" fill="#FF4A00"/>
<path d="M655.25 500.6L659.1 504.45L655.25 508.3L651.4 504.45Z" fill="#FF4A00"/>
<path d="M657.97 503.28L661.82 507.13L657.97 510.98L654.12 507.13Z" fill="#FF4A00"/>
<path d="M660.7 497.8L664.55 501.65L660.7 505.5L656.85 501.65Z" fill="#FF4A00"/>
<path d="M663.42 502.44L667.27 506.29L663.42 510.14L659.57 506.29Z" fill="#FF4A00"/>
<path d="M666.14 501.07L669.99 504.92L666.14 508.77L662.29 504.92Z" fill="#FF4A00"/>
<path d="M668.87 500.39L672.72 504.24L668.87 508.09L665.02 504.24Z" fill="#FF4A00"/>
<path d="M671.59 500.85L675.44 504.7L671.59 508.55L667.74 504.7Z" fill="#FF4A00"/>
<path d="M674.32 502.28L678.17 506.13L674.32 509.98L670.47 506.13Z" fill="#FF4A00"/>
<path d="M677.04 500.64L680.89 504.49L677.04 508.34L673.19 504.49Z" fill="#FF4A00"/>
<path d="M679.77 495.33L683.62 499.18L679.77 503.03L675.92 499.18Z" fill="#FF4A00"/>
<path d="M682.49 501.42L686.34 505.27L682.49 509.12L678.64 505.27Z" fill="#FF4A00"/>
<path d="M685.22 500.39L689.07 504.24L685.22 508.09L681.37 504.24Z" fill="#FF4A00"/>
<path d="M687.94 497.64L691.79 501.49L687.94 505.34L684.09 501.49Z" fill="#FF4A00"/>
<path d="M690.67 498.47L694.52 502.32L690.67 506.17L686.82 502.32Z" fill="#FF4A00"/>
<path d="M693.39 498.43L697.24 502.28L693.39 506.13L689.54 502.28Z" fill="#FF4A00"/>
<path d="M696.12 498.21L699.97 502.06L696.12 505.91L692.27 502.06Z" fill="#FF4A00"/>
<path d="M698.84 504.39L702.69 508.24L698.84 512.09L694.99 508.24Z" fill="#FF4A00"/>
<path d="M701.56 501.98L705.41 505.83L701.56 509.68L697.71 505.83Z" fill="#FF4A00"/>
<path d="M704.29 499.81L708.14 503.66L704.29 507.51L700.44 503.66Z" fill="#FF4A00"/>
<path d="M707.01 499.01L710.86 502.86L707.01 506.71L703.16 502.86Z" fill="#FF4A00"/>
<path d="M709.74 497.27L713.59 501.12L709.74 504.97L705.89 501.12Z" fill="#FF4A00"/>
<path d="M712.46 499.07L716.31 502.92L712.46 506.77L708.61 502.92Z" fill="#FF4A00"/>
<path d="M715.19 500.61L719.04 504.46L715.19 508.31L711.34 504.46Z" fill="#FF4A00"/>
<path d="M717.91 500.01L721.76 503.86L717.91 507.71L714.06 503.86Z" fill="#FF4A00"/>
<path d="M720.64 500.55L724.49 504.4L720.64 508.25L716.79 504.4Z" fill="#FF4A00"/>
<path d="M723.36 499.55L727.21 503.4L723.36 507.25L719.51 503.4Z" fill="#FF4A00"/>
<path d="M726.09 498.62L729.94 502.47L726.09 506.32L722.24 502.47Z" fill="#FF4A00"/>
<path d="M728.81 500.84L732.66 504.69L728.81 508.54L724.96 504.69Z" fill="#FF4A00"/>
<path d="M731.54 501.87L735.39 505.72L731.54 509.57L727.69 505.72Z" fill="#FF4A00"/>
<path d="M734.26 501.96L738.11 505.81L734.26 509.66L730.41 505.81Z" fill="#FF4A00"/>
<path d="M736.98 497.7L740.83 501.55L736.98 505.4L733.13 501.55Z" fill="#FF4A00"/>
<path d="M739.71 497.3L743.56 501.15L739.71 505L735.86 501.15Z" fill="#FF4A00"/>
<path d="M742.43 497.93L746.28 501.78L742.43 505.63L738.58 501.78Z" fill="#FF4A00"/>
<path d="M745.16 498.22L749.01 502.07L745.16 505.92L741.31 502.07Z" fill="#FF4A00"/>
<path d="M747.88 498.28L751.73 502.13L747.88 505.98L744.03 502.13Z" fill="#FF4A00"/>
<path d="M750.61 500.1L754.46 503.95L750.61 507.8L746.76 503.95Z" fill="#FF4A00"/>
<path d="M753.33 498.65L757.18 502.5L753.33 506.35L749.48 502.5Z" fill="#FF4A00"/>
<path d="M756.06 502.39L759.91 506.24L756.06 510.09L752.21 506.24Z" fill="#FF4A00"/>
<path d="M758.78 500.54L762.63 504.39L758.78 508.24L754.93 504.39Z" fill="#FF4A00"/>
<path d="M761.51 501.7L765.36 505.55L761.51 509.4L757.66 505.55Z" fill="#FF4A00"/>
<path d="M764.23 498.51L768.08 502.36L764.23 506.21L760.38 502.36Z" fill="#FF4A00"/>
<path d="M766.96 501.36L770.81 505.21L766.96 509.06L763.11 505.21Z" fill="#FF4A00"/>
<path d="M769.68 500.33L773.53 504.18L769.68 508.03L765.83 504.18Z" fill="#FF4A00"/>
<path d="M772.4 499.22L776.25 503.07L772.4 506.92L768.55 503.07Z" fill="#FF4A00"/>
<path d="M775.13 497.14L778.98 500.99L775.13 504.84L771.28 500.99Z" fill="#FF4A00"/>
<path d="M777.85 501.82L781.7 505.67L777.85 509.52L774 505.67Z" fill="#FF4A00"/>
<path d="M780.58 502.14L784.43 505.99L780.58 509.84L776.73 505.99Z" fill="#FF4A00"/>
<path d="M783.3 498.31L787.15 502.16L783.3 506.01L779.45 502.16Z" fill="#FF4A00"/>
<path d="M786.03 502.51L789.88 506.36L786.03 510.21L782.18 506.36Z" fill="#FF4A00"/>
<path d="M788.75 499.11L792.6 502.96L788.75 506.81L784.9 502.96Z" fill="#FF4A00"/>
<path d="M791.48 501.34L795.33 505.19L791.48 509.04L787.63 505.19Z" fill="#FF4A00"/>
<path d="M794.2 500.32L798.05 504.17L794.2 508.02L790.35 504.17Z" fill="#FF4A00"/>
<path d="M796.93 504.07L800.78 507.92L796.93 511.77L793.08 507.92Z" fill="#FF4A00"/>
<path d="M799.65 498.54L803.5 502.39L799.65 506.24L795.8 502.39Z" fill="#FF4A00"/>
<path d="M802.38 501.19L806.23 505.04L802.38 508.89L798.53 505.04Z" fill="#FF4A00"/>
<path d="M805.1 371.03L808.95 374.88L805.1 378.73L801.25 374.88Z" fill="#FF4A00"/>
<path d="M216.58 501.5L220.43 505.35L216.58 509.2L212.73 505.35Z" fill="#C00000"/>
<path d="M219.31 498.73L223.16 502.58L219.31 506.43L215.46 502.58Z" fill="#C00000"/>
<path d="M222.03 503.51L225.88 507.36L222.03 511.21L218.18 507.36Z" fill="#C00000"/>
<path d="M227.48 500.23L231.33 504.08L227.48 507.93L223.63 504.08Z" fill="#C00000"/>
<path d="M230.21 497.15L234.06 501L230.21 504.85L226.36 501Z" fill="#C00000"/>
<path d="M232.93 493.54L236.78 497.39L232.93 501.24L229.08 497.39Z" fill="#C00000"/>
<path d="M235.66 500.95L239.51 504.8L235.66 508.65L231.81 504.8Z" fill="#C00000"/>
<path d="M238.38 499.68L242.23 503.53L238.38 507.38L234.53 503.53Z" fill="#C00000"/>
<path d="M241.11 489.81L244.96 493.66L241.11 497.51L237.26 493.66Z" fill="#C00000"/>
<path d="M243.83 488.48L247.68 492.33L243.83 496.18L239.98 492.33Z" fill="#C00000"/>
<path d="M246.56 481.38L250.41 485.23L246.56 489.08L242.71 485.23Z" fill="#C00000"/>
<path d="M249.28 480.72L253.13 484.57L249.28 488.42L245.43 484.57Z" fill="#C00000"/>
<path d="M252 482.27L255.85 486.12L252 489.97L248.15 486.12Z" fill="#C00000"/>
<path d="M254.73 479.46L258.58 483.31L254.73 487.16L250.88 483.31Z" fill="#C00000"/>
<path d="M257.45 461.35L261.3 465.2L257.45 469.05L253.6 465.2Z" fill="#C00000"/>
<path d="M260.18 471.07L264.03 474.92L260.18 478.77L256.33 474.92Z" fill="#C00000"/>
<path d="M262.9 468.86L266.75 472.71L262.9 476.56L259.05 472.71Z" fill="#C00000"/>
<path d="M265.63 465.65L269.48 469.5L265.63 473.35L261.78 469.5Z" fill="#C00000"/>
<path d="M268.35 452.62L272.2 456.47L268.35 460.32L264.5 456.47Z" fill="#C00000"/>
<path d="M271.08 445.84L274.93 449.69L271.08 453.54L267.23 449.69Z" fill="#C00000"/>
<path d="M273.8 442.18L277.65 446.03L273.8 449.88L269.95 446.03Z" fill="#C00000"/>
<path d="M276.53 432.95L280.38 436.8L276.53 440.65L272.68 436.8Z" fill="#C00000"/>
<path d="M279.25 422.67L283.1 426.52L279.25 430.37L275.4 426.52Z" fill="#C00000"/>
<path d="M281.98 411.04L285.83 414.89L281.98 418.74L278.12 414.89Z" fill="#C00000"/>
<path d="M284.7 398.82L288.55 402.67L284.7 406.52L280.85 402.67Z" fill="#C00000"/>
<path d="M287.42 397.35L291.27 401.2L287.42 405.05L283.57 401.2Z" fill="#C00000"/>
<path d="M290.15 406.86L294 410.71L290.15 414.56L286.3 410.71Z" fill="#C00000"/>
<path d="M292.87 374.14L296.72 377.99L292.87 381.84L289.02 377.99Z" fill="#C00000"/>
<path d="M295.6 386.42L299.45 390.27L295.6 394.12L291.75 390.27Z" fill="#C00000"/>
<path d="M298.32 364.5L302.17 368.35L298.32 372.2L294.47 368.35Z" fill="#C00000"/>
<path d="M301.05 370.24L304.9 374.09L301.05 377.94L297.2 374.09Z" fill="#C00000"/>
<path d="M303.77 330.46L307.62 334.31L303.77 338.16L299.92 334.31Z" fill="#C00000"/>
<path d="M306.5 346L310.35 349.85L306.5 353.7L302.65 349.85Z" fill="#C00000"/>
<path d="M309.22 312.11L313.07 315.96L309.22 319.81L305.37 315.96Z" fill="#C00000"/>
<path d="M311.95 321.04L315.8 324.89L311.95 328.74L308.1 324.89Z" fill="#C00000"/>
<path d="M314.67 332.94L318.52 336.79L314.67 340.64L310.82 336.79Z" fill="#C00000"/>
<path d="M317.39 317.37L321.24 321.22L317.39 325.07L313.54 321.22Z" fill="#C00000"/>
<path d="M320.12 299.21L323.97 303.06L320.12 306.91L316.27 303.06Z" fill="#C00000"/>
<path d="M322.84 273.03L326.69 276.88L322.84 280.73L318.99 276.88Z" fill="#C00000"/>
<path d="M325.57 305.46L329.42 309.31L325.57 313.16L321.72 309.31Z" fill="#C00000"/>
<path d="M328.29 294.95L332.14 298.8L328.29 302.65L324.44 298.8Z" fill="#C00000"/>
<path d="M331.02 308.14L334.87 311.99L331.02 315.84L327.17 311.99Z" fill="#C00000"/>
<path d="M333.74 292.85L337.59 296.7L333.74 300.55L329.89 296.7Z" fill="#C00000"/>
<path d="M336.47 289.79L340.32 293.64L336.47 297.49L332.62 293.64Z" fill="#C00000"/>
<path d="M339.19 289.97L343.04 293.82L339.19 297.67L335.34 293.82Z" fill="#C00000"/>
<path d="M341.92 312.71L345.77 316.56L341.92 320.41L338.07 316.56Z" fill="#C00000"/>
<path d="M344.64 329.77L348.49 333.62L344.64 337.47L340.79 333.62Z" fill="#C00000"/>
<path d="M347.37 315.48L351.22 319.33L347.37 323.18L343.52 319.33Z" fill="#C00000"/>
<path d="M350.09 307.77L353.94 311.62L350.09 315.47L346.24 311.62Z" fill="#C00000"/>
<path d="M352.81 303.78L356.66 307.63L352.81 311.48L348.96 307.63Z" fill="#C00000"/>
<path d="M355.54 324.51L359.39 328.36L355.54 332.21L351.69 328.36Z" fill="#C00000"/>
<path d="M358.26 345.89L362.11 349.74L358.26 353.59L354.41 349.74Z" fill="#C00000"/>
<path d="M360.99 335.44L364.84 339.29L360.99 343.14L357.14 339.29Z" fill="#C00000"/>
<path d="M363.71 356.86L367.56 360.71L363.71 364.56L359.86 360.71Z" fill="#C00000"/>
<path d="M366.44 350.89L370.29 354.74L366.44 358.59L362.59 354.74Z" fill="#C00000"/>
<path d="M369.16 366.78L373.01 370.63L369.16 374.48L365.31 370.63Z" fill="#C00000"/>
<path d="M371.89 380.55L375.74 384.4L371.89 388.25L368.04 384.4Z" fill="#C00000"/>
<path d="M374.61 397.75L378.46 401.6L374.61 405.45L370.76 401.6Z" fill="#C00000"/>
<path d="M377.34 392.56L381.19 396.41L377.34 400.26L373.49 396.41Z" fill="#C00000"/>
<path d="M380.06 403.66L383.91 407.51L380.06 411.36L376.21 407.51Z" fill="#C00000"/>
<path d="M382.79 402.76L386.64 406.61L382.79 410.46L378.94 406.61Z" fill="#C00000"/>
<path d="M385.51 425.86L389.36 429.71L385.51 433.56L381.66 429.71Z" fill="#C00000"/>
<path d="M388.23 426.46L392.08 430.31L388.23 434.16L384.38 430.31Z" fill="#C00000"/>
<path d="M390.96 433.75L394.81 437.6L390.96 441.45L387.11 437.6Z" fill="#C00000"/>
<path d="M393.68 441.63L397.53 445.48L393.68 449.33L389.83 445.48Z" fill="#C00000"/>
<path d="M396.41 447.99L400.26 451.84L396.41 455.69L392.56 451.84Z" fill="#C00000"/>
<path d="M399.13 453.56L402.98 457.41L399.13 461.26L395.28 457.41Z" fill="#C00000"/>
<path d="M401.86 462.65L405.71 466.5L401.86 470.35L398.01 466.5Z" fill="#C00000"/>
<path d="M404.58 469.05L408.43 472.9L404.58 476.75L400.73 472.9Z" fill="#C00000"/>
<path d="M407.31 469.8L411.16 473.65L407.31 477.5L403.46 473.65Z" fill="#C00000"/>
<path d="M410.03 468.67L413.88 472.52L410.03 476.37L406.18 472.52Z" fill="#C00000"/>
<path d="M412.76 467.79L416.61 471.64L412.76 475.49L408.91 471.64Z" fill="#C00000"/>
<path d="M415.48 473.12L419.33 476.97L415.48 480.82L411.63 476.97Z" fill="#C00000"/>
<path d="M418.21 475.37L422.06 479.22L418.21 483.07L414.36 479.22Z" fill="#C00000"/>
<path d="M420.93 478.74L424.78 482.59L420.93 486.44L417.08 482.59Z" fill="#C00000"/>
<path d="M423.65 480.97L427.5 484.82L423.65 488.67L419.8 484.82Z" fill="#C00000"/>
<path d="M426.38 484.62L430.23 488.47L426.38 492.32L422.53 488.47Z" fill="#C00000"/>
<path d="M429.1 483.73L432.95 487.58L429.1 491.43L425.25 487.58Z" fill="#C00000"/>
<path d="M431.83 481.15L435.68 485L431.83 488.85L427.98 485Z" fill="#C00000"/>
<path d="M434.55 490.01L438.4 493.86L434.55 497.71L430.7 493.86Z" fill="#C00000"/>
<path d="M437.28 492.14L441.13 495.99L437.28 499.84L433.43 495.99Z" fill="#C00000"/>
<path d="M440 483.16L443.85 487.01L440 490.86L436.15 487.01Z" fill="#C00000"/>
<path d="M442.73 489.95L446.58 493.8L442.73 497.65L438.88 493.8Z" fill="#C00000"/>
<path d="M445.45 487.82L449.3 491.67L445.45 495.52L441.6 491.67Z" fill="#C00000"/>
<path d="M448.18 488.56L452.03 492.41L448.18 496.26L444.33 492.41Z" fill="#C00000"/>
<path d="M450.9 495.99L454.75 499.84L450.9 503.69L447.05 499.84Z" fill="#C00000"/>
<path d="M453.63 483.65L457.48 487.5L453.63 491.35L449.78 487.5Z" fill="#C00000"/>
<path d="M456.35 486.19L460.2 490.04L456.35 493.89L452.5 490.04Z" fill="#C00000"/>
<path d="M459.07 491.96L462.92 495.81L459.07 499.66L455.22 495.81Z" fill="#C00000"/>
<path d="M461.8 490.08L465.65 493.93L461.8 497.78L457.95 493.93Z" fill="#C00000"/>
<path d="M464.52 492.37L468.37 496.22L464.52 500.07L460.67 496.22Z" fill="#C00000"/>
<path d="M467.25 495.97L471.1 499.82L467.25 503.67L463.4 499.82Z" fill="#C00000"/>
<path d="M469.97 493.34L473.82 497.19L469.97 501.04L466.12 497.19Z" fill="#C00000"/>
<path d="M472.7 491.7L476.55 495.55L472.7 499.4L468.85 495.55Z" fill="#C00000"/>
<path d="M475.42 489.15L479.27 493L475.42 496.85L471.57 493Z" fill="#C00000"/>
<path d="M478.15 490.6L482 494.45L478.15 498.3L474.3 494.45Z" fill="#C00000"/>
<path d="M480.87 492.88L484.72 496.73L480.87 500.58L477.02 496.73Z" fill="#C00000"/>
<path d="M483.6 488.39L487.45 492.24L483.6 496.09L479.75 492.24Z" fill="#C00000"/>
<path d="M486.32 495.76L490.17 499.61L486.32 503.46L482.47 499.61Z" fill="#C00000"/>
<path d="M489.05 490.37L492.9 494.22L489.05 498.07L485.2 494.22Z" fill="#C00000"/>
<path d="M491.77 489.27L495.62 493.12L491.77 496.97L487.92 493.12Z" fill="#C00000"/>
<path d="M494.49 494.15L498.34 498L494.49 501.85L490.64 498Z" fill="#C00000"/>
<path d="M497.22 499.36L501.07 503.21L497.22 507.06L493.37 503.21Z" fill="#C00000"/>
<path d="M499.94 496.29L503.79 500.14L499.94 503.99L496.09 500.14Z" fill="#C00000"/>
<path d="M502.67 492.32L506.52 496.17L502.67 500.02L498.82 496.17Z" fill="#C00000"/>
<path d="M505.39 491.31L509.24 495.16L505.39 499.01L501.54 495.16Z" fill="#C00000"/>
<path d="M508.12 487.77L511.97 491.62L508.12 495.47L504.27 491.62Z" fill="#C00000"/>
<path d="M510.84 496.63L514.69 500.48L510.84 504.33L506.99 500.48Z" fill="#C00000"/>
<path d="M513.57 493.14L517.42 496.99L513.57 500.84L509.72 496.99Z" fill="#C00000"/>
<path d="M516.29 490.9L520.14 494.75L516.29 498.6L512.44 494.75Z" fill="#C00000"/>
<path d="M519.02 493.7L522.87 497.55L519.02 501.4L515.17 497.55Z" fill="#C00000"/>
<path d="M521.74 501.38L525.59 505.23L521.74 509.08L517.89 505.23Z" fill="#C00000"/>
<path d="M524.47 490.35L528.32 494.2L524.47 498.05L520.62 494.2Z" fill="#C00000"/>
<path d="M527.19 485.12L531.04 488.97L527.19 492.82L523.34 488.97Z" fill="#C00000"/>
<path d="M529.91 489.66L533.76 493.51L529.91 497.36L526.06 493.51Z" fill="#C00000"/>
<path d="M532.64 496.34L536.49 500.19L532.64 504.04L528.79 500.19Z" fill="#C00000"/>
<path d="M535.36 494.58L539.21 498.43L535.36 502.28L531.51 498.43Z" fill="#C00000"/>
<path d="M538.09 492.38L541.94 496.23L538.09 500.08L534.24 496.23Z" fill="#C00000"/>
<path d="M540.81 484.51L544.66 488.36L540.81 492.21L536.96 488.36Z" fill="#C00000"/>
<path d="M543.54 491.01L547.39 494.86L543.54 498.71L539.69 494.86Z" fill="#C00000"/>
<path d="M546.26 492.76L550.11 496.61L546.26 500.46L542.41 496.61Z" fill="#C00000"/>
<path d="M548.99 487.74L552.84 491.59L548.99 495.44L545.14 491.59Z" fill="#C00000"/>
<path d="M551.71 493.43L555.56 497.28L551.71 501.13L547.86 497.28Z" fill="#C00000"/>
<path d="M554.44 486.69L558.29 490.54L554.44 494.39L550.59 490.54Z" fill="#C00000"/>
<path d="M557.16 495.53L561.01 499.38L557.16 503.23L553.31 499.38Z" fill="#C00000"/>
<path d="M559.89 494.8L563.74 498.65L559.89 502.5L556.04 498.65Z" fill="#C00000"/>
<path d="M562.61 490.65L566.46 494.5L562.61 498.35L558.76 494.5Z" fill="#C00000"/>
<path d="M565.33 488.2L569.18 492.05L565.33 495.9L561.48 492.05Z" fill="#C00000"/>
<path d="M568.06 490.88L571.91 494.73L568.06 498.58L564.21 494.73Z" fill="#C00000"/>
<path d="M570.78 492.1L574.63 495.95L570.78 499.8L566.93 495.95Z" fill="#C00000"/>
<path d="M573.51 499.47L577.36 503.32L573.51 507.17L569.66 503.32Z" fill="#C00000"/>
<path d="M576.23 495.63L580.08 499.48L576.23 503.33L572.38 499.48Z" fill="#C00000"/>
<path d="M578.96 495.27L582.81 499.12L578.96 502.97L575.11 499.12Z" fill="#C00000"/>
<path d="M581.68 495L585.53 498.85L581.68 502.7L577.83 498.85Z" fill="#C00000"/>
<path d="M584.41 491.11L588.26 494.96L584.41 498.81L580.56 494.96Z" fill="#C00000"/>
<path d="M587.13 494.31L590.98 498.16L587.13 502.01L583.28 498.16Z" fill="#C00000"/>
<path d="M589.86 490.42L593.71 494.27L589.86 498.12L586.01 494.27Z" fill="#C00000"/>
<path d="M592.58 492.86L596.43 496.71L592.58 500.56L588.73 496.71Z" fill="#C00000"/>
<path d="M595.31 494.31L599.16 498.16L595.31 502.01L591.46 498.16Z" fill="#C00000"/>
<path d="M598.03 492.74L601.88 496.59L598.03 500.44L594.18 496.59Z" fill="#C00000"/>
<path d="M600.75 491.66L604.6 495.51L600.75 499.36L596.9 495.51Z" fill="#C00000"/>
<path d="M603.48 490.17L607.33 494.02L603.48 497.87L599.63 494.02Z" fill="#C00000"/>
<path d="M606.2 494.81L610.05 498.66L606.2 502.51L602.35 498.66Z" fill="#C00000"/>
<path d="M608.93 493.96L612.78 497.81L608.93 501.66L605.08 497.81Z" fill="#C00000"/>
<path d="M611.65 497.88L615.5 501.73L611.65 505.58L607.8 501.73Z" fill="#C00000"/>
<path d="M614.38 487.58L618.23 491.43L614.38 495.28L610.53 491.43Z" fill="#C00000"/>
<path d="M617.1 488.11L620.95 491.96L617.1 495.81L613.25 491.96Z" fill="#C00000"/>
<path d="M619.83 493.77L623.68 497.62L619.83 501.47L615.98 497.62Z" fill="#C00000"/>
<path d="M622.55 494.81L626.4 498.66L622.55 502.51L618.7 498.66Z" fill="#C00000"/>
<path d="M625.28 497.44L629.13 501.29L625.28 505.14L621.43 501.29Z" fill="#C00000"/>
<path d="M628 492.56L631.85 496.41L628 500.26L624.15 496.41Z" fill="#C00000"/>
<path d="M630.73 492.43L634.58 496.28L630.73 500.13L626.88 496.28Z" fill="#C00000"/>
<path d="M633.45 485.58L637.3 489.43L633.45 493.28L629.6 489.43Z" fill="#C00000"/>
<path d="M636.17 492.29L640.02 496.14L636.17 499.99L632.32 496.14Z" fill="#C00000"/>
<path d="M638.9 495.85L642.75 499.7L638.9 503.55L635.05 499.7Z" fill="#C00000"/>
<path d="M641.62 501.64L645.47 505.49L641.62 509.34L637.77 505.49Z" fill="#C00000"/>
<path d="M644.35 488.26L648.2 492.11L644.35 495.96L640.5 492.11Z" fill="#C00000"/>
<path d="M647.07 492.49L650.92 496.34L647.07 500.19L643.22 496.34Z" fill="#C00000"/>
<path d="M649.8 498.74L653.65 502.59L649.8 506.44L645.95 502.59Z" fill="#C00000"/>
<path d="M652.52 492.52L656.37 496.37L652.52 500.22L648.67 496.37Z" fill="#C00000"/>
<path d="M655.25 498.73L659.1 502.58L655.25 506.43L651.4 502.58Z" fill="#C00000"/>
<path d="M657.97 481.07L661.82 484.92L657.97 488.77L654.12 484.92Z" fill="#C00000"/>
<path d="M660.7 489.27L664.55 493.12L660.7 496.97L656.85 493.12Z" fill="#C00000"/>
<path d="M663.42 491.16L667.27 495.01L663.42 498.86L659.57 495.01Z" fill="#C00000"/>
<path d="M666.14 493.76L669.99 497.61L666.14 501.46L662.29 497.61Z" fill="#C00000"/>
<path d="M668.87 500.58L672.72 504.43L668.87 508.28L665.02 504.43Z" fill="#C00000"/>
<path d="M671.59 493.59L675.44 497.44L671.59 501.29L667.74 497.44Z" fill="#C00000"/>
<path d="M674.32 498.55L678.17 502.4L674.32 506.25L670.47 502.4Z" fill="#C00000"/>
<path d="M677.04 491.08L680.89 494.93L677.04 498.78L673.19 494.93Z" fill="#C00000"/>
<path d="M679.77 500.58L683.62 504.43L679.77 508.28L675.92 504.43Z" fill="#C00000"/>
<path d="M682.49 496.3L686.34 500.15L682.49 504L678.64 500.15Z" fill="#C00000"/>
<path d="M685.22 488.92L689.07 492.77L685.22 496.62L681.37 492.77Z" fill="#C00000"/>
<path d="M687.94 487.44L691.79 491.29L687.94 495.14L684.09 491.29Z" fill="#C00000"/>
<path d="M690.67 497.25L694.52 501.1L690.67 504.95L686.82 501.1Z" fill="#C00000"/>
<path d="M693.39 498.48L697.24 502.33L693.39 506.18L689.54 502.33Z" fill="#C00000"/>
<path d="M696.12 490.1L699.97 493.95L696.12 497.8L692.27 493.95Z" fill="#C00000"/>
<path d="M698.84 490.19L702.69 494.04L698.84 497.89L694.99 494.04Z" fill="#C00000"/>
<path d="M701.56 496.58L705.41 500.43L701.56 504.28L697.71 500.43Z" fill="#C00000"/>
<path d="M704.29 495.56L708.14 499.41L704.29 503.26L700.44 499.41Z" fill="#C00000"/>
<path d="M707.01 495.56L710.86 499.41L707.01 503.26L703.16 499.41Z" fill="#C00000"/>
<path d="M709.74 497.28L713.59 501.13L709.74 504.98L705.89 501.13Z" fill="#C00000"/>
<path d="M712.46 495.51L716.31 499.36L712.46 503.21L708.61 499.36Z" fill="#C00000"/>
<path d="M715.19 488.81L719.04 492.66L715.19 496.51L711.34 492.66Z" fill="#C00000"/>
<path d="M717.91 490.76L721.76 494.61L717.91 498.46L714.06 494.61Z" fill="#C00000"/>
<path d="M720.64 486.01L724.49 489.86L720.64 493.71L716.79 489.86Z" fill="#C00000"/>
<path d="M723.36 493.45L727.21 497.3L723.36 501.15L719.51 497.3Z" fill="#C00000"/>
<path d="M726.09 493.62L729.94 497.47L726.09 501.32L722.24 497.47Z" fill="#C00000"/>
<path d="M728.81 496.56L732.66 500.41L728.81 504.26L724.96 500.41Z" fill="#C00000"/>
<path d="M731.54 493.58L735.39 497.43L731.54 501.28L727.69 497.43Z" fill="#C00000"/>
<path d="M734.26 497.71L738.11 501.56L734.26 505.41L730.41 501.56Z" fill="#C00000"/>
<path d="M736.98 499.32L740.83 503.17L736.98 507.02L733.13 503.17Z" fill="#C00000"/>
<path d="M739.71 490.73L743.56 494.58L739.71 498.43L735.86 494.58Z" fill="#C00000"/>
<path d="M742.43 488.15L746.28 492L742.43 495.85L738.58 492Z" fill="#C00000"/>
<path d="M745.16 490.24L749.01 494.09L745.16 497.94L741.31 494.09Z" fill="#C00000"/>
<path d="M747.88 488.52L751.73 492.37L747.88 496.22L744.03 492.37Z" fill="#C00000"/>
<path d="M750.61 492.27L754.46 496.12L750.61 499.97L746.76 496.12Z" fill="#C00000"/>
<path d="M753.33 495.64L757.18 499.49L753.33 503.34L749.48 499.49Z" fill="#C00000"/>
<path d="M756.06 492.85L759.91 496.7L756.06 500.55L752.21 496.7Z" fill="#C00000"/>
<path d="M758.78 494.45L762.63 498.3L758.78 502.15L754.93 498.3Z" fill="#C00000"/>
<path d="M761.51 497.01L765.36 500.86L761.51 504.71L757.66 500.86Z" fill="#C00000"/>
<path d="M764.23 499.03L768.08 502.88L764.23 506.73L760.38 502.88Z" fill="#C00000"/>
<path d="M766.96 498.3L770.81 502.15L766.96 506L763.11 502.15Z" fill="#C00000"/>
<path d="M769.68 493.17L773.53 497.02L769.68 500.87L765.83 497.02Z" fill="#C00000"/>
<path d="M772.4 492.63L776.25 496.48L772.4 500.33L768.55 496.48Z" fill="#C00000"/>
<path d="M775.13 494.8L778.98 498.65L775.13 502.5L771.28 498.65Z" fill="#C00000"/>
<path d="M777.85 488.19L781.7 492.04L777.85 495.89L774 492.04Z" fill="#C00000"/>
<path d="M780.58 492.53L784.43 496.38L780.58 500.23L776.73 496.38Z" fill="#C00000"/>
<path d="M783.3 491.13L787.15 494.98L783.3 498.83L779.45 494.98Z" fill="#C00000"/>
<path d="M786.03 488.92L789.88 492.77L786.03 496.62L782.18 492.77Z" fill="#C00000"/>
<path d="M788.75 496L792.6 499.85L788.75 503.7L784.9 499.85Z" fill="#C00000"/>
<path d="M791.48 499.99L795.33 503.84L791.48 507.69L787.63 503.84Z" fill="#C00000"/>
<path d="M794.2 490.54L798.05 494.39L794.2 498.24L790.35 494.39Z" fill="#C00000"/>
<path d="M796.93 495.54L800.78 499.39L796.93 503.24L793.08 499.39Z" fill="#C00000"/>
<path d="M799.65 488.6L803.5 492.45L799.65 496.3L795.8 492.45Z" fill="#C00000"/>
<path d="M802.38 491.98L806.23 495.83L802.38 499.68L798.53 495.83Z" fill="#C00000"/>
<path d="M805.1 85.93L808.95 89.78L805.1 93.63L801.25 89.78Z" fill="#C00000"/>
</g>
<path d="M107.6 502H203.85" stroke="#FFA585" stroke-width="2" stroke-linecap="round" clip-path="url(#ca)"/>
<g clip-path="url(#ca)" fill="none" stroke-width="3.2" stroke-linejoin="round">
<path d="M107.60 508.41L109.34 508.41L111.09 508.41L112.83 508.41L114.57 508.41L116.32 508.41L118.06 508.41L119.81 508.41L121.55 508.41L123.29 508.41L125.04 508.41L126.78 508.41L128.53 508.41L130.27 508.41L132.01 508.41L133.76 508.41L135.50 508.41L137.24 508.41L138.99 508.41L140.73 508.41L142.47 508.41L144.22 508.41L145.96 508.41L147.71 508.41L149.45 508.41L151.19 508.41L152.94 508.41L154.68 508.41L156.42 508.41L158.17 508.41L159.91 508.41L161.66 508.41L163.40 508.41L165.14 508.41L166.89 508.41L168.63 508.41L170.38 508.41L172.12 508.41L173.86 508.41L175.61 508.41L177.35 508.41L179.09 508.41L180.84 508.41L182.58 508.41L184.32 508.41L186.07 508.41L187.81 508.41L189.56 508.41L191.30 508.41L193.04 508.41L194.79 508.41L196.53 508.41L198.27 508.41L200.02 508.41L201.76 508.41L203.51 508.41L205.25 508.41L206.99 508.41L208.74 508.41L210.48 508.41L212.22 508.41L213.97 508.41L215.71 508.41L217.46 508.41L219.20 508.41L220.94 508.41L222.69 508.41L224.43 508.41L226.18 508.41L227.92 508.41L229.66 508.41L231.41 508.41L233.15 508.41L234.89 508.41L236.64 508.41L238.38 508.41L240.12 508.41L241.87 508.41L243.61 508.41L245.36 508.41L247.10 508.41L248.84 508.41L250.59 508.41L252.33 508.41L254.07 508.41L255.82 508.41L257.56 508.41L259.31 508.41L261.05 508.41L262.79 508.41L264.54 508.41L266.28 508.41L268.02 508.41L269.77 508.41L271.51 508.41L273.26 508.41L275.00 508.41L276.74 508.41L278.49 508.41L280.23 508.41L281.98 508.41L283.72 508.41L285.46 508.41L287.21 508.41L288.95 508.41L290.69 508.41L292.44 508.41L294.18 508.41L295.93 508.41L297.67 508.41L299.41 508.41L301.16 508.41L302.90 508.41L304.64 508.41L306.39 508.41L308.13 508.41L309.88 508.41L311.62 508.41L313.36 508.41L315.11 508.41L316.85 508.41L318.59 508.41L320.34 508.41L322.08 508.41L323.82 508.41L325.57 508.41L327.31 508.41L329.06 508.41L330.80 508.41L332.54 508.41L334.29 508.41L336.03 508.41L337.77 508.41L339.52 508.41L341.26 508.41L343.01 508.41L344.75 508.41L346.49 508.41L348.24 508.41L349.98 508.41L351.73 508.41L353.47 508.41L355.21 508.41L356.96 508.41L358.70 508.41L360.44 508.41L362.19 508.41L363.93 508.41L365.67 508.41L367.42 508.41L369.16 508.41L370.91 508.41L372.65 508.41L374.39 508.41L376.14 508.41L377.88 508.41L379.62 508.41L381.37 508.41L383.11 508.41L384.86 508.41L386.60 508.41L388.34 508.41L390.09 508.41L391.83 508.40L393.57 508.40L395.32 508.40L397.06 508.40L398.81 508.40L400.55 508.39L402.29 508.38L404.04 508.38L405.78 508.36L407.52 508.35L409.27 508.33L411.01 508.30L412.76 508.27L414.50 508.22L416.24 508.17L417.99 508.09L419.73 507.99L421.48 507.87L423.22 507.72L424.96 507.52L426.71 507.28L428.45 506.97L430.19 506.59L431.94 506.13L433.68 505.55L435.42 504.86L437.17 504.01L438.91 502.98L440.66 501.75L442.40 500.29L444.14 498.55L445.89 496.49L447.63 494.08L449.38 491.27L451.12 488.01L452.86 484.24L454.61 479.93L456.35 475.01L458.09 469.44L459.84 463.16L461.58 456.14L463.32 448.32L465.07 439.68L466.81 430.19L468.56 419.83L470.30 408.60L472.04 396.50L473.79 383.56L475.53 369.82L477.27 355.32L479.02 340.16L480.76 324.41L482.51 308.19L484.25 291.62L485.99 274.85L487.74 258.04L489.48 241.35L491.23 224.96L492.97 209.07L494.71 193.85L496.46 179.51L498.20 166.22L499.94 154.17L501.69 143.52L503.43 134.42L505.17 127.00L506.92 121.37L508.66 117.60L510.41 115.77L512.15 115.88L513.89 117.95L515.64 121.94L517.38 127.80L519.12 135.43L520.87 144.72L522.61 155.55L524.36 167.76L526.10 181.18L527.84 195.64L529.59 210.94L531.33 226.91L533.08 243.34L534.82 260.05L536.56 276.87L538.31 293.63L540.05 310.16L541.79 326.33L543.54 342.01L545.28 357.10L547.02 371.51L548.77 385.16L550.51 398.00L552.26 409.99L554.00 421.12L555.74 431.38L557.49 440.76L559.23 449.30L560.98 457.02L562.72 463.96L564.46 470.14L566.21 475.64L567.95 480.48L569.69 484.72L571.44 488.42L573.18 491.63L574.92 494.39L576.67 496.76L578.41 498.77L580.16 500.48L581.90 501.91L583.64 503.12L585.39 504.12L587.13 504.95L588.88 505.63L590.62 506.19L592.36 506.64L594.11 507.01L595.85 507.31L597.59 507.55L599.34 507.74L601.08 507.89L602.83 508.01L604.57 508.10L606.31 508.17L608.06 508.23L609.80 508.27L611.54 508.31L613.29 508.33L615.03 508.35L616.77 508.37L618.52 508.38L620.26 508.39L622.01 508.39L623.75 508.40L625.49 508.40L627.24 508.40L628.98 508.40L630.73 508.40L632.47 508.41L634.21 508.41L635.96 508.41L637.70 508.41L639.44 508.41L641.19 508.41L642.93 508.41L644.68 508.41L646.42 508.41L648.16 508.41L649.91 508.41L651.65 508.41L653.39 508.41L655.14 508.41L656.88 508.41L658.62 508.41L660.37 508.41L662.11 508.41L663.86 508.41L665.60 508.41L667.34 508.41L669.09 508.41L670.83 508.41L672.58 508.41L674.32 508.41L676.06 508.41L677.81 508.41L679.55 508.41L681.29 508.41L683.04 508.41L684.78 508.41L686.53 508.41L688.27 508.41L690.01 508.41L691.76 508.41L693.50 508.41L695.24 508.41L696.99 508.41L698.73 508.41L700.48 508.41L702.22 508.41L703.96 508.41L705.71 508.41L707.45 508.41L709.19 508.41L710.94 508.41L712.68 508.41L714.42 508.41L716.17 508.41L717.91 508.41L719.66 508.41L721.40 508.41L723.14 508.41L724.89 508.41L726.63 508.41L728.38 508.41L730.12 508.41L731.86 508.41L733.61 508.41L735.35 508.41L737.09 508.41L738.84 508.41L740.58 508.41L742.33 508.41L744.07 508.41L745.81 508.41L747.56 508.41L749.30 508.41L751.04 508.41L752.79 508.41L754.53 508.41L756.28 508.41L758.02 508.41L759.76 508.41L761.51 508.41L763.25 508.41L764.99 508.41L766.74 508.41L768.48 508.41L770.23 508.41L771.97 508.41L773.71 508.41L775.46 508.41L777.20 508.41L778.94 508.41L780.69 508.41L782.43 508.41L784.17 508.41L785.92 508.41L787.66 508.41L789.41 508.41L791.15 508.41L792.89 508.41L794.64 508.41L796.38 508.41L798.12 508.41L799.87 508.41L801.61 508.41L803.36 508.41L805.10 508.41" stroke="#3300FF"/>
<path d="M107.60 507.12L109.34 507.12L111.09 507.12L112.83 507.12L114.57 507.12L116.32 507.12L118.06 507.12L119.81 507.12L121.55 507.12L123.29 507.12L125.04 507.12L126.78 507.12L128.53 507.12L130.27 507.12L132.01 507.12L133.76 507.12L135.50 507.12L137.24 507.12L138.99 507.12L140.73 507.12L142.47 507.12L144.22 507.12L145.96 507.12L147.71 507.12L149.45 507.12L151.19 507.12L152.94 507.12L154.68 507.12L156.42 507.12L158.17 507.12L159.91 507.12L161.66 507.12L163.40 507.12L165.14 507.12L166.89 507.12L168.63 507.12L170.38 507.12L172.12 507.12L173.86 507.12L175.61 507.12L177.35 507.12L179.09 507.12L180.84 507.12L182.58 507.12L184.32 507.12L186.07 507.12L187.81 507.12L189.56 507.12L191.30 507.12L193.04 507.12L194.79 507.12L196.53 507.12L198.27 507.12L200.02 507.12L201.76 507.12L203.51 507.12L205.25 507.12L206.99 507.12L208.74 507.12L210.48 507.12L212.22 507.12L213.97 507.12L215.71 507.12L217.46 507.12L219.20 507.12L220.94 507.12L222.69 507.12L224.43 507.12L226.18 507.12L227.92 507.12L229.66 507.12L231.41 507.12L233.15 507.12L234.89 507.12L236.64 507.12L238.38 507.12L240.12 507.12L241.87 507.12L243.61 507.12L245.36 507.12L247.10 507.12L248.84 507.12L250.59 507.12L252.33 507.12L254.07 507.12L255.82 507.12L257.56 507.12L259.31 507.12L261.05 507.12L262.79 507.12L264.54 507.12L266.28 507.12L268.02 507.12L269.77 507.12L271.51 507.12L273.26 507.12L275.00 507.12L276.74 507.12L278.49 507.12L280.23 507.12L281.98 507.12L283.72 507.12L285.46 507.12L287.21 507.12L288.95 507.12L290.69 507.12L292.44 507.12L294.18 507.12L295.93 507.11L297.67 507.11L299.41 507.11L301.16 507.11L302.90 507.10L304.64 507.09L306.39 507.08L308.13 507.07L309.88 507.05L311.62 507.03L313.36 506.99L315.11 506.95L316.85 506.89L318.59 506.81L320.34 506.71L322.08 506.57L323.82 506.40L325.57 506.17L327.31 505.89L329.06 505.52L330.80 505.05L332.54 504.47L334.29 503.74L336.03 502.83L337.77 501.72L339.52 500.35L341.26 498.69L343.01 496.69L344.75 494.28L346.49 491.41L348.24 488.01L349.98 484.01L351.73 479.34L353.47 473.93L355.21 467.69L356.96 460.56L358.70 452.46L360.44 443.33L362.19 433.11L363.93 421.77L365.67 409.27L367.42 395.60L369.16 380.77L370.91 364.82L372.65 347.79L374.39 329.78L376.14 310.89L377.88 291.28L379.62 271.11L381.37 250.57L383.11 229.90L384.86 209.32L386.60 189.10L388.34 169.52L390.09 150.84L391.83 133.35L393.57 117.31L395.32 102.98L397.06 90.60L398.81 80.37L400.55 72.47L402.29 67.04L404.04 64.17L405.78 63.90L407.52 66.26L409.27 71.19L411.01 78.60L412.76 88.38L414.50 100.35L416.24 114.30L417.99 130.02L419.73 147.24L421.48 165.70L423.22 185.13L424.96 205.24L426.71 225.76L428.45 246.44L430.19 267.02L431.94 287.29L433.68 307.02L435.42 326.07L437.17 344.26L438.91 361.49L440.66 377.67L442.40 392.73L444.14 406.63L445.89 419.37L447.63 430.94L449.38 441.37L451.12 450.72L452.86 459.02L454.61 466.34L456.35 472.75L458.09 478.32L459.84 483.13L461.58 487.26L463.32 490.77L465.07 493.74L466.81 496.24L468.56 498.32L470.30 500.05L472.04 501.47L473.79 502.63L475.53 503.57L477.27 504.34L479.02 504.95L480.76 505.43L482.51 505.82L484.25 506.12L485.99 506.36L487.74 506.54L489.48 506.69L491.23 506.79L492.97 506.88L494.71 506.94L496.46 506.99L498.20 507.02L499.94 507.05L501.69 507.07L503.43 507.08L505.17 507.09L506.92 507.10L508.66 507.11L510.41 507.11L512.15 507.11L513.89 507.11L515.64 507.12L517.38 507.12L519.12 507.12L520.87 507.12L522.61 507.12L524.36 507.12L526.10 507.12L527.84 507.12L529.59 507.12L531.33 507.12L533.08 507.12L534.82 507.12L536.56 507.12L538.31 507.12L540.05 507.12L541.79 507.12L543.54 507.12L545.28 507.12L547.02 507.12L548.77 507.12L550.51 507.12L552.26 507.12L554.00 507.12L555.74 507.12L557.49 507.12L559.23 507.12L560.98 507.12L562.72 507.12L564.46 507.12L566.21 507.12L567.95 507.12L569.69 507.12L571.44 507.12L573.18 507.12L574.92 507.12L576.67 507.12L578.41 507.12L580.16 507.12L581.90 507.12L583.64 507.12L585.39 507.12L587.13 507.12L588.88 507.12L590.62 507.12L592.36 507.12L594.11 507.12L595.85 507.12L597.59 507.12L599.34 507.12L601.08 507.12L602.83 507.12L604.57 507.12L606.31 507.12L608.06 507.12L609.80 507.12L611.54 507.12L613.29 507.12L615.03 507.12L616.77 507.12L618.52 507.12L620.26 507.12L622.01 507.12L623.75 507.12L625.49 507.12L627.24 507.12L628.98 507.12L630.73 507.12L632.47 507.12L634.21 507.12L635.96 507.12L637.70 507.12L639.44 507.12L641.19 507.12L642.93 507.12L644.68 507.12L646.42 507.12L648.16 507.12L649.91 507.12L651.65 507.12L653.39 507.12L655.14 507.12L656.88 507.12L658.62 507.12L660.37 507.12L662.11 507.12L663.86 507.12L665.60 507.12L667.34 507.12L669.09 507.12L670.83 507.12L672.58 507.12L674.32 507.12L676.06 507.12L677.81 507.12L679.55 507.12L681.29 507.12L683.04 507.12L684.78 507.12L686.53 507.12L688.27 507.12L690.01 507.12L691.76 507.12L693.50 507.12L695.24 507.12L696.99 507.12L698.73 507.12L700.48 507.12L702.22 507.12L703.96 507.12L705.71 507.12L707.45 507.12L709.19 507.12L710.94 507.12L712.68 507.12L714.42 507.12L716.17 507.12L717.91 507.12L719.66 507.12L721.40 507.12L723.14 507.12L724.89 507.12L726.63 507.12L728.38 507.12L730.12 507.12L731.86 507.12L733.61 507.12L735.35 507.12L737.09 507.12L738.84 507.12L740.58 507.12L742.33 507.12L744.07 507.12L745.81 507.12L747.56 507.12L749.30 507.12L751.04 507.12L752.79 507.12L754.53 507.12L756.28 507.12L758.02 507.12L759.76 507.12L761.51 507.12L763.25 507.12L764.99 507.12L766.74 507.12L768.48 507.12L770.23 507.12L771.97 507.12L773.71 507.12L775.46 507.12L777.20 507.12L778.94 507.12L780.69 507.12L782.43 507.12L784.17 507.12L785.92 507.12L787.66 507.12L789.41 507.12L791.15 507.12L792.89 507.12L794.64 507.12L796.38 507.12L798.12 507.12L799.87 507.12L801.61 507.12L803.36 507.12L805.10 507.12" stroke="#66FF00"/>
<path d="M107.60 504.54L109.34 504.54L111.09 504.54L112.83 504.54L114.57 504.54L116.32 504.54L118.06 504.54L119.81 504.54L121.55 504.54L123.29 504.54L125.04 504.54L126.78 504.54L128.53 504.54L130.27 504.54L132.01 504.54L133.76 504.54L135.50 504.54L137.24 504.54L138.99 504.54L140.73 504.54L142.47 504.54L144.22 504.54L145.96 504.54L147.71 504.54L149.45 504.54L151.19 504.54L152.94 504.54L154.68 504.54L156.42 504.54L158.17 504.54L159.91 504.54L161.66 504.54L163.40 504.54L165.14 504.54L166.89 504.54L168.63 504.54L170.38 504.54L172.12 504.54L173.86 504.54L175.61 504.54L177.35 504.54L179.09 504.54L180.84 504.54L182.58 504.54L184.32 504.54L186.07 504.54L187.81 504.54L189.56 504.54L191.30 504.54L193.04 504.54L194.79 504.54L196.53 504.54L198.27 504.54L200.02 504.54L201.76 504.54L203.51 504.54L205.25 504.54L206.99 504.54L208.74 504.54L210.48 504.54L212.22 504.54L213.97 504.54L215.71 504.54L217.46 504.54L219.20 504.54L220.94 504.54L222.69 504.54L224.43 504.54L226.18 504.54L227.92 504.54L229.66 504.54L231.41 504.54L233.15 504.54L234.89 504.54L236.64 504.54L238.38 504.54L240.12 504.54L241.87 504.53L243.61 504.53L245.36 504.53L247.10 504.53L248.84 504.52L250.59 504.51L252.33 504.51L254.07 504.50L255.82 504.48L257.56 504.46L259.31 504.44L261.05 504.41L262.79 504.37L264.54 504.32L266.28 504.26L268.02 504.18L269.77 504.08L271.51 503.96L273.26 503.80L275.00 503.61L276.74 503.38L278.49 503.09L280.23 502.74L281.98 502.32L283.72 501.80L285.46 501.18L287.21 500.45L288.95 499.57L290.69 498.52L292.44 497.29L294.18 495.85L295.93 494.17L297.67 492.21L299.41 489.95L301.16 487.35L302.90 484.37L304.64 480.99L306.39 477.15L308.13 472.83L309.88 467.98L311.62 462.58L313.36 456.60L315.11 449.99L316.85 442.75L318.59 434.85L320.34 426.29L322.08 417.05L323.82 407.16L325.57 396.61L327.31 385.45L329.06 373.71L330.80 361.44L332.54 348.69L334.29 335.56L336.03 322.11L337.77 308.46L339.52 294.71L341.26 280.97L343.01 267.37L344.75 254.04L346.49 241.11L348.24 228.73L349.98 217.03L351.73 206.14L353.47 196.19L355.21 187.30L356.96 179.57L358.70 173.11L360.44 168.00L362.19 164.30L363.93 162.06L365.67 161.31L367.42 162.06L369.16 164.30L370.91 168.00L372.65 173.11L374.39 179.57L376.14 187.30L377.88 196.19L379.62 206.14L381.37 217.03L383.11 228.73L384.86 241.11L386.60 254.04L388.34 267.37L390.09 280.97L391.83 294.71L393.57 308.46L395.32 322.11L397.06 335.56L398.81 348.69L400.55 361.44L402.29 373.71L404.04 385.45L405.78 396.61L407.52 407.16L409.27 417.05L411.01 426.29L412.76 434.85L414.50 442.75L416.24 449.99L417.99 456.60L419.73 462.58L421.48 467.98L423.22 472.83L424.96 477.15L426.71 480.99L428.45 484.37L430.19 487.35L431.94 489.95L433.68 492.21L435.42 494.17L437.17 495.85L438.91 497.29L440.66 498.52L442.40 499.57L444.14 500.45L445.89 501.18L447.63 501.80L449.38 502.32L451.12 502.74L452.86 503.09L454.61 503.38L456.35 503.61L458.09 503.80L459.84 503.96L461.58 504.08L463.32 504.18L465.07 504.26L466.81 504.32L468.56 504.37L470.30 504.41L472.04 504.44L473.79 504.46L475.53 504.48L477.27 504.50L479.02 504.51L480.76 504.51L482.51 504.52L484.25 504.53L485.99 504.53L487.74 504.53L489.48 504.53L491.23 504.54L492.97 504.54L494.71 504.54L496.46 504.54L498.20 504.54L499.94 504.54L501.69 504.54L503.43 504.54L505.17 504.54L506.92 504.54L508.66 504.54L510.41 504.54L512.15 504.54L513.89 504.54L515.64 504.54L517.38 504.54L519.12 504.54L520.87 504.54L522.61 504.54L524.36 504.54L526.10 504.54L527.84 504.54L529.59 504.54L531.33 504.54L533.08 504.54L534.82 504.54L536.56 504.54L538.31 504.54L540.05 504.54L541.79 504.54L543.54 504.54L545.28 504.54L547.02 504.54L548.77 504.54L550.51 504.54L552.26 504.54L554.00 504.54L555.74 504.54L557.49 504.54L559.23 504.54L560.98 504.54L562.72 504.54L564.46 504.54L566.21 504.54L567.95 504.54L569.69 504.54L571.44 504.54L573.18 504.54L574.92 504.54L576.67 504.54L578.41 504.54L580.16 504.54L581.90 504.54L583.64 504.54L585.39 504.54L587.13 504.54L588.88 504.54L590.62 504.54L592.36 504.54L594.11 504.54L595.85 504.54L597.59 504.54L599.34 504.54L601.08 504.54L602.83 504.54L604.57 504.54L606.31 504.54L608.06 504.54L609.80 504.54L611.54 504.54L613.29 504.54L615.03 504.54L616.77 504.54L618.52 504.54L620.26 504.54L622.01 504.54L623.75 504.54L625.49 504.54L627.24 504.54L628.98 504.54L630.73 504.54L632.47 504.54L634.21 504.54L635.96 504.54L637.70 504.54L639.44 504.54L641.19 504.54L642.93 504.54L644.68 504.54L646.42 504.54L648.16 504.54L649.91 504.54L651.65 504.54L653.39 504.54L655.14 504.54L656.88 504.54L658.62 504.54L660.37 504.54L662.11 504.54L663.86 504.54L665.60 504.54L667.34 504.54L669.09 504.54L670.83 504.54L672.58 504.54L674.32 504.54L676.06 504.54L677.81 504.54L679.55 504.54L681.29 504.54L683.04 504.54L684.78 504.54L686.53 504.54L688.27 504.54L690.01 504.54L691.76 504.54L693.50 504.54L695.24 504.54L696.99 504.54L698.73 504.54L700.48 504.54L702.22 504.54L703.96 504.54L705.71 504.54L707.45 504.54L709.19 504.54L710.94 504.54L712.68 504.54L714.42 504.54L716.17 504.54L717.91 504.54L719.66 504.54L721.40 504.54L723.14 504.54L724.89 504.54L726.63 504.54L728.38 504.54L730.12 504.54L731.86 504.54L733.61 504.54L735.35 504.54L737.09 504.54L738.84 504.54L740.58 504.54L742.33 504.54L744.07 504.54L745.81 504.54L747.56 504.54L749.30 504.54L751.04 504.54L752.79 504.54L754.53 504.54L756.28 504.54L758.02 504.54L759.76 504.54L761.51 504.54L763.25 504.54L764.99 504.54L766.74 504.54L768.48 504.54L770.23 504.54L771.97 504.54L773.71 504.54L775.46 504.54L777.20 504.54L778.94 504.54L780.69 504.54L782.43 504.54L784.17 504.54L785.92 504.54L787.66 504.54L789.41 504.54L791.15 504.54L792.89 504.54L794.64 504.54L796.38 504.54L798.12 504.54L799.87 504.54L801.61 504.54L803.36 504.54L805.10 504.54" stroke="#FF4A00"/>
<path d="M107.60 499.38L109.34 499.38L111.09 499.38L112.83 499.38L114.57 499.38L116.32 499.38L118.06 499.38L119.81 499.38L121.55 499.38L123.29 499.38L125.04 499.38L126.78 499.38L128.53 499.38L130.27 499.38L132.01 499.38L133.76 499.38L135.50 499.38L137.24 499.38L138.99 499.38L140.73 499.38L142.47 499.38L144.22 499.38L145.96 499.38L147.71 499.38L149.45 499.38L151.19 499.38L152.94 499.38L154.68 499.38L156.42 499.38L158.17 499.38L159.91 499.38L161.66 499.38L163.40 499.37L165.14 499.37L166.89 499.37L168.63 499.37L170.38 499.36L172.12 499.36L173.86 499.36L175.61 499.35L177.35 499.35L179.09 499.34L180.84 499.33L182.58 499.32L184.32 499.30L186.07 499.29L187.81 499.27L189.56 499.25L191.30 499.22L193.04 499.19L194.79 499.16L196.53 499.11L198.27 499.07L200.02 499.01L201.76 498.94L203.51 498.86L205.25 498.77L206.99 498.67L208.74 498.55L210.48 498.41L212.22 498.25L213.97 498.07L215.71 497.86L217.46 497.62L219.20 497.35L220.94 497.04L222.69 496.69L224.43 496.30L226.18 495.86L227.92 495.36L229.66 494.80L231.41 494.18L233.15 493.48L234.89 492.71L236.64 491.85L238.38 490.90L240.12 489.85L241.87 488.69L243.61 487.42L245.36 486.03L247.10 484.50L248.84 482.84L250.59 481.04L252.33 479.08L254.07 476.97L255.82 474.69L257.56 472.23L259.31 469.60L261.05 466.79L262.79 463.78L264.54 460.59L266.28 457.20L268.02 453.62L269.77 449.84L271.51 445.87L273.26 441.70L275.00 437.35L276.74 432.82L278.49 428.11L280.23 423.24L281.98 418.21L283.72 413.04L285.46 407.75L287.21 402.34L288.95 396.84L290.69 391.27L292.44 385.64L294.18 379.98L295.93 374.32L297.67 368.68L299.41 363.08L301.16 357.56L302.90 352.13L304.64 346.84L306.39 341.70L308.13 336.74L309.88 332.00L311.62 327.50L313.36 323.27L315.11 319.33L316.85 315.70L318.59 312.42L320.34 309.49L322.08 306.94L323.82 304.79L325.57 303.04L327.31 301.72L329.06 300.82L330.80 300.36L332.54 300.33L334.29 300.74L336.03 301.59L337.77 302.86L339.52 304.56L341.26 306.66L343.01 309.17L344.75 312.05L346.49 315.29L348.24 318.88L349.98 322.78L351.73 326.98L353.47 331.45L355.21 336.16L356.96 341.09L358.70 346.21L360.44 351.49L362.19 356.90L363.93 362.41L365.67 368.00L367.42 373.64L369.16 379.30L370.91 384.96L372.65 390.59L374.39 396.17L376.14 401.68L377.88 407.10L379.62 412.41L381.37 417.60L383.11 422.64L384.86 427.54L386.60 432.26L388.34 436.82L390.09 441.19L391.83 445.38L393.57 449.37L395.32 453.17L397.06 456.78L398.81 460.19L400.55 463.41L402.29 466.44L404.04 469.27L405.78 471.93L407.52 474.40L409.27 476.70L411.01 478.84L412.76 480.81L414.50 482.63L416.24 484.31L417.99 485.85L419.73 487.26L421.48 488.54L423.22 489.71L424.96 490.78L426.71 491.74L428.45 492.61L430.19 493.39L431.94 494.10L433.68 494.73L435.42 495.30L437.17 495.80L438.91 496.25L440.66 496.65L442.40 497.00L444.14 497.31L445.89 497.59L447.63 497.83L449.38 498.04L451.12 498.23L452.86 498.39L454.61 498.53L456.35 498.65L458.09 498.76L459.84 498.85L461.58 498.93L463.32 499.00L465.07 499.06L466.81 499.11L468.56 499.15L470.30 499.19L472.04 499.22L473.79 499.25L475.53 499.27L477.27 499.29L479.02 499.30L480.76 499.32L482.51 499.33L484.25 499.34L485.99 499.34L487.74 499.35L489.48 499.36L491.23 499.36L492.97 499.36L494.71 499.37L496.46 499.37L498.20 499.37L499.94 499.37L501.69 499.38L503.43 499.38L505.17 499.38L506.92 499.38L508.66 499.38L510.41 499.38L512.15 499.38L513.89 499.38L515.64 499.38L517.38 499.38L519.12 499.38L520.87 499.38L522.61 499.38L524.36 499.38L526.10 499.38L527.84 499.38L529.59 499.38L531.33 499.38L533.08 499.38L534.82 499.38L536.56 499.38L538.31 499.38L540.05 499.38L541.79 499.38L543.54 499.38L545.28 499.38L547.02 499.38L548.77 499.38L550.51 499.38L552.26 499.38L554.00 499.38L555.74 499.38L557.49 499.38L559.23 499.38L560.98 499.38L562.72 499.38L564.46 499.38L566.21 499.38L567.95 499.38L569.69 499.38L571.44 499.38L573.18 499.38L574.92 499.38L576.67 499.38L578.41 499.38L580.16 499.38L581.90 499.38L583.64 499.38L585.39 499.38L587.13 499.38L588.88 499.38L590.62 499.38L592.36 499.38L594.11 499.38L595.85 499.38L597.59 499.38L599.34 499.38L601.08 499.38L602.83 499.38L604.57 499.38L606.31 499.38L608.06 499.38L609.80 499.38L611.54 499.38L613.29 499.38L615.03 499.38L616.77 499.38L618.52 499.38L620.26 499.38L622.01 499.38L623.75 499.38L625.49 499.38L627.24 499.38L628.98 499.38L630.73 499.38L632.47 499.38L634.21 499.38L635.96 499.38L637.70 499.38L639.44 499.38L641.19 499.38L642.93 499.38L644.68 499.38L646.42 499.38L648.16 499.38L649.91 499.38L651.65 499.38L653.39 499.38L655.14 499.38L656.88 499.38L658.62 499.38L660.37 499.38L662.11 499.38L663.86 499.38L665.60 499.38L667.34 499.38L669.09 499.38L670.83 499.38L672.58 499.38L674.32 499.38L676.06 499.38L677.81 499.38L679.55 499.38L681.29 499.38L683.04 499.38L684.78 499.38L686.53 499.38L688.27 499.38L690.01 499.38L691.76 499.38L693.50 499.38L695.24 499.38L696.99 499.38L698.73 499.38L700.48 499.38L702.22 499.38L703.96 499.38L705.71 499.38L707.45 499.38L709.19 499.38L710.94 499.38L712.68 499.38L714.42 499.38L716.17 499.38L717.91 499.38L719.66 499.38L721.40 499.38L723.14 499.38L724.89 499.38L726.63 499.38L728.38 499.38L730.12 499.38L731.86 499.38L733.61 499.38L735.35 499.38L737.09 499.38L738.84 499.38L740.58 499.38L742.33 499.38L744.07 499.38L745.81 499.38L747.56 499.38L749.30 499.38L751.04 499.38L752.79 499.38L754.53 499.38L756.28 499.38L758.02 499.38L759.76 499.38L761.51 499.38L763.25 499.38L764.99 499.38L766.74 499.38L768.48 499.38L770.23 499.38L771.97 499.38L773.71 499.38L775.46 499.38L777.20 499.38L778.94 499.38L780.69 499.38L782.43 499.38L784.17 499.38L785.92 499.38L787.66 499.38L789.41 499.38L791.15 499.38L792.89 499.38L794.64 499.38L796.38 499.38L798.12 499.38L799.87 499.38L801.61 499.38L803.36 499.38L805.10 499.38" stroke="#C00000"/>
</g>
<rect x="107.6" y="13.4" width="697.50" height="496.00" fill="none" stroke="#000" stroke-width="2.6" stroke-linecap="square"/>
<path d="M107.6 509.4v14.5M107.6 13.4v14.5M177.35 509.4v7.5M177.35 13.4v7.5M247.1 509.4v14.5M247.1 13.4v14.5M316.85 509.4v7.5M316.85 13.4v7.5M386.6 509.4v14.5M386.6 13.4v14.5M456.35 509.4v7.5M456.35 13.4v7.5M526.1 509.4v14.5M526.1 13.4v14.5M595.85 509.4v7.5M595.85 13.4v7.5M665.6 509.4v14.5M665.6 13.4v14.5M735.35 509.4v7.5M735.35 13.4v7.5M805.1 509.4v14.5M805.1 13.4v14.5M107.6 509.4h-14.5M805.1 509.4h-14.5M107.6 459.8h-7.5M805.1 459.8h-7.5M107.6 410.2h-14.5M805.1 410.2h-14.5M107.6 360.6h-7.5M805.1 360.6h-7.5M107.6 311h-14.5M805.1 311h-14.5M107.6 261.4h-7.5M805.1 261.4h-7.5M107.6 211.8h-14.5M805.1 211.8h-14.5M107.6 162.2h-7.5M805.1 162.2h-7.5M107.6 112.6h-14.5M805.1 112.6h-14.5M107.6 63h-7.5M805.1 63h-7.5M107.6 13.4h-14.5M805.1 13.4h-14.5" stroke="#000" stroke-width="2.6" fill="none"/>
<g font-family='"Liberation Sans", Arial, Helvetica, sans-serif' font-size="32" fill="#000" stroke="#000" stroke-width="0.5">
<text transform="matrix(1 0 0 1.04 82.5 519.4)" text-anchor="end">0.0</text>
<text transform="matrix(1 0 0 1.04 82.5 420.2)" text-anchor="end">0.1</text>
<text transform="matrix(1 0 0 1.04 82.5 321)" text-anchor="end">0.2</text>
<text transform="matrix(1 0 0 1.04 82.5 221.8)" text-anchor="end">0.3</text>
<text transform="matrix(1 0 0 1.04 82.5 122.6)" text-anchor="end">0.4</text>
<text transform="matrix(1 0 0 1.04 82.5 23.4)" text-anchor="end">0.5</text>
<text transform="matrix(1 0 0 1.04 107.6 559.4)" text-anchor="middle">0</text>
<text transform="matrix(1 0 0 1.04 247.1 559.4)" text-anchor="middle">2</text>
<text transform="matrix(1 0 0 1.04 386.6 559.4)" text-anchor="middle">4</text>
<text transform="matrix(1 0 0 1.04 526.1 559.4)" text-anchor="middle">6</text>
<text transform="matrix(1 0 0 1.04 665.6 559.4)" text-anchor="middle">8</text>
<text transform="matrix(1 0 0 1.04 805.1 559.4)" text-anchor="middle">10</text>
<text transform="matrix(1 0 0 1.0 456.4 613.6)" text-anchor="middle">Lifetime code / ns</text>
<text transform="translate(23.6 260.8) rotate(-90) scale(1 1.0)" text-anchor="middle">Relative number of events</text>
<text transform="matrix(1 0 0 1.0 142 68.1)" font-weight="bold" stroke="none">a</text>
<text transform="matrix(1 0 0 1.04 680.5 282.6)">T / %</text>
<text transform="matrix(1 0 0 1.04 690 321.7)">100</text>
<text transform="matrix(1 0 0 1.04 690 360.7)">35.1</text>
<text transform="matrix(1 0 0 1.04 690 400.5)">17.9</text>
<text transform="matrix(1 0 0 1.04 690 439.6)">7.9</text>
</g>
<path d="M645 307.05L648.85 310.9L645 314.75L641.15 310.9Z" fill="#3300FF"/>
<path d="M645 346.85L648.85 350.7L645 354.55L641.15 350.7Z" fill="#66FF00"/>
<path d="M645 386.15L648.85 390L645 393.85L641.15 390Z" fill="#FF4A00"/>
<path d="M645 425.35L648.85 429.2L645 433.05L641.15 429.2Z" fill="#C00000"/>
<g font-family='"Liberation Sans", Arial, Helvetica, sans-serif' font-size="32" stroke-width="0.5">
<text transform="matrix(1 0 0 1.04 204.4 69.7)" fill="#66FF00" stroke="#66FF00">(4.3±0.3)</text>
<text transform="matrix(1 0 0 1.0 341.13 69.7)" fill="#66FF00" stroke="#66FF00">ns</text>
<text transform="matrix(1 0 0 1.04 463.2 62)" fill="#3300FF" stroke="#3300FF">(5.8±0.4)</text>
<text transform="matrix(1 0 0 1.0 599.93 62)" fill="#3300FF" stroke="#3300FF">ns</text>
<text transform="matrix(1 0 0 1.04 154.6 153.6)" fill="#FF4A00" stroke="#FF4A00">(3.7±0.4)</text>
<text transform="matrix(1 0 0 1.0 291.33 153.6)" fill="#FF4A00" stroke="#FF4A00">ns</text>
<text transform="matrix(1 0 0 1.04 116.7 292.8)" fill="#C00000" stroke="#C00000">(3.2±0.5)</text>
<text transform="matrix(1 0 0 1.0 253.43 292.8)" fill="#C00000" stroke="#C00000">ns</text>
</g>
<circle cx="989.7" cy="424.1" r="9.2" fill="#000"/>
<circle cx="1065.1" cy="342.5" r="9.2" fill="#000"/>
<circle cx="1140.7" cy="234.7" r="9.2" fill="#000"/>
<circle cx="1215.9" cy="116.2" r="9.2" fill="#000"/>
<circle cx="1291.9" cy="133.5" r="9.2" fill="#000"/>
<circle cx="1366.9" cy="223.6" r="9.2" fill="#000"/>
<circle cx="1443.2" cy="480.0" r="9.2" fill="#000"/>
<circle cx="1518.1" cy="460.0" r="9.2" fill="#000"/>
<path d="M951.8 287.3H1556.5" stroke="#FF0000" stroke-width="3.6"/>
<path d="M951.8 157.9H1556.5M951.8 415.8H1556.5" stroke="#FF0000" stroke-width="3.6" stroke-dasharray="15.4 20.6" stroke-linecap="round"/>
<path d="M990.59 376.14L999.91 367.06M1016.49 350.64L1025.51 341.86M1042.3 325.06L1051.3 316.44M1071 300.78L1085.2 293.52M1103.62 284.61L1117.48 277.89M1135.82 268.13L1140.7 265.8L1144.42 258.02M1154.43 236.86L1160.87 226.14M1170.93 205L1176.77 193.8M1186.26 173.22L1192.84 161.08M1201.52 141.36L1208.78 129.24M1222.36 111.14L1234.54 108.66M1257.87 104.27L1270.43 101.93M1292.69 98.93L1300.51 109.17M1314.31 127.52L1322.39 137.88M1336.29 155.43L1344.91 166.67M1358.36 184.68L1367.14 195.12M1380.36 212.58L1389.14 223.02M1402.93 240.4L1411.77 251.4M1425.95 268.18L1435.15 279.22M1446.57 298.22L1453.23 312.18M1462.97 333.37L1467.73 345.13M1476.33 366.35L1481.97 379.15M1490.64 398.64L1496.36 411.36M1505.02 430.8L1511.68 443.7" fill="none" stroke="#0000FF" stroke-width="3.6" stroke-linecap="round" stroke-linejoin="round"/>
<path d="M1103.2 236.5H1000" stroke="#000" stroke-width="3.5" stroke-linecap="round"/>
<path d="M989.3 236.5L1008.4 231.8L1008.4 241.2Z" fill="#000" stroke="#000" stroke-width="2.5" stroke-linejoin="round"/>
<path d="M1329.8 112.5H1470" stroke="#0000FF" stroke-width="3.5" stroke-linecap="round"/>
<path d="M1481.05 112.5L1461.85 107.45L1461.85 117.55Z" fill="#0000FF" stroke="#0000FF" stroke-width="2.5" stroke-linejoin="round"/>
<rect x="1092" y="347.8" width="365.4" height="154.2" fill="#fff" stroke="#000" stroke-width="1.3"/>
<circle cx="1128.4" cy="366.3" r="9.2" fill="#000"/>
<path d="M1092.8 405.6H1107.4M1128.8 405.6H1143.8" stroke="#0000FF" stroke-width="3.6" stroke-linecap="round"/>
<path d="M1092 444.7H1165.3" stroke="#FF0000" stroke-width="3.6"/>
<path d="M1092.8 484H1107.4M1128.8 484H1143.8" stroke="#FF0000" stroke-width="3.6" stroke-linecap="round"/>
<rect x="951.8" y="13.4" width="604.70" height="496.00" fill="none" stroke="#000" stroke-width="2.6" stroke-linecap="square"/>
<path d="M951.8 509.4v7.5M951.8 13.4v7.5M989.59 509.4v14.5M989.59 13.4v14.5M1027.39 509.4v7.5M1027.39 13.4v7.5M1065.18 509.4v14.5M1065.18 13.4v14.5M1102.97 509.4v7.5M1102.97 13.4v7.5M1140.77 509.4v14.5M1140.77 13.4v14.5M1178.56 509.4v7.5M1178.56 13.4v7.5M1216.36 509.4v14.5M1216.36 13.4v14.5M1254.15 509.4v7.5M1254.15 13.4v7.5M1291.94 509.4v14.5M1291.94 13.4v14.5M1329.74 509.4v7.5M1329.74 13.4v7.5M1367.53 509.4v14.5M1367.53 13.4v14.5M1405.33 509.4v7.5M1405.33 13.4v7.5M1443.12 509.4v14.5M1443.12 13.4v14.5M1480.91 509.4v7.5M1480.91 13.4v7.5M1518.71 509.4v14.5M1518.71 13.4v14.5M1556.5 509.4v7.5M1556.5 13.4v7.5M951.8 509.4h-14.5M951.8 459.8h-7.5M951.8 410.2h-14.5M951.8 360.6h-7.5M951.8 311h-14.5M951.8 261.4h-7.5M951.8 211.8h-14.5M951.8 162.2h-7.5M951.8 112.6h-14.5M951.8 63h-7.5M951.8 13.4h-14.5M1556.5 484.6h-7.5M1556.5 435h-14.5M1556.5 385.4h-7.5M1556.5 335.8h-14.5M1556.5 286.2h-7.5M1556.5 236.6h-14.5M1556.5 187h-7.5M1556.5 137.4h-14.5M1556.5 87.8h-7.5M1556.5 38.2h-14.5" stroke="#000" stroke-width="2.6" fill="none"/>
<g font-family='"Liberation Sans", Arial, Helvetica, sans-serif' font-size="32" fill="#000" stroke="#000" stroke-width="0.5">
<text transform="matrix(1 0 0 1.04 927.5 519.3)" text-anchor="end">9.0</text>
<text transform="matrix(1 0 0 1.04 927.5 420.1)" text-anchor="end">9.2</text>
<text transform="matrix(1 0 0 1.04 927.5 320.9)" text-anchor="end">9.4</text>
<text transform="matrix(1 0 0 1.04 927.5 221.7)" text-anchor="end">9.6</text>
<text transform="matrix(1 0 0 1.04 927.5 122.5)" text-anchor="end">9.8</text>
<text transform="matrix(1 0 0 1.04 927.5 23.3)" text-anchor="end">10.0</text>
<text transform="matrix(1 0 0 1.04 1571 444.8)">1.4</text>
<text transform="matrix(1 0 0 1.04 1571 345.6)">1.6</text>
<text transform="matrix(1 0 0 1.04 1571 246.4)">1.8</text>
<text transform="matrix(1 0 0 1.04 1571 147.2)">2.0</text>
<text transform="matrix(1 0 0 1.04 1571 48)">2.2</text>
<text transform="matrix(1 0 0 1.04 989.59 559.4)" text-anchor="middle">30</text>
<text transform="matrix(1 0 0 1.04 1065.18 559.4)" text-anchor="middle">60</text>
<text transform="matrix(1 0 0 1.04 1140.77 559.4)" text-anchor="middle">90</text>
<text transform="matrix(1 0 0 1.04 1216.36 559.4)" text-anchor="middle">180</text>
<text transform="matrix(1 0 0 1.04 1291.94 559.4)" text-anchor="middle">180</text>
<text transform="matrix(1 0 0 1.04 1367.53 559.4)" text-anchor="middle">90</text>
<text transform="matrix(1 0 0 1.04 1443.12 559.4)" text-anchor="middle">60</text>
<text transform="matrix(1 0 0 1.04 1518.71 559.4)" text-anchor="middle">30</text>
<text transform="matrix(1 0 0 1.0 1254.6 613.6)" text-anchor="middle">Pressure / hPa</text>
<text transform="translate(873.4 260.9) rotate(-90) scale(1 1.0)" text-anchor="middle">Measured lifetime / ns</text>
<text transform="translate(1648.4 261) rotate(-90) scale(1 1.0)" text-anchor="middle">Standard deviation / ns</text>
<text transform="matrix(1 0 0 1.0 989.8 81)" font-weight="bold" stroke="none">b</text>
<text transform="matrix(1 0 0 1.0 1173.3 376.8)">measurement mean</text>
<text transform="matrix(1 0 0 1.0 1173.3 415.6)">measurement SD</text>
<text transform="matrix(1 0 0 1.0 1173.3 454.9)">series mean</text>
<text transform="matrix(1 0 0 1.0 1182.3 494.2)">± SD</text>
</g>
</svg>
</body></html>
